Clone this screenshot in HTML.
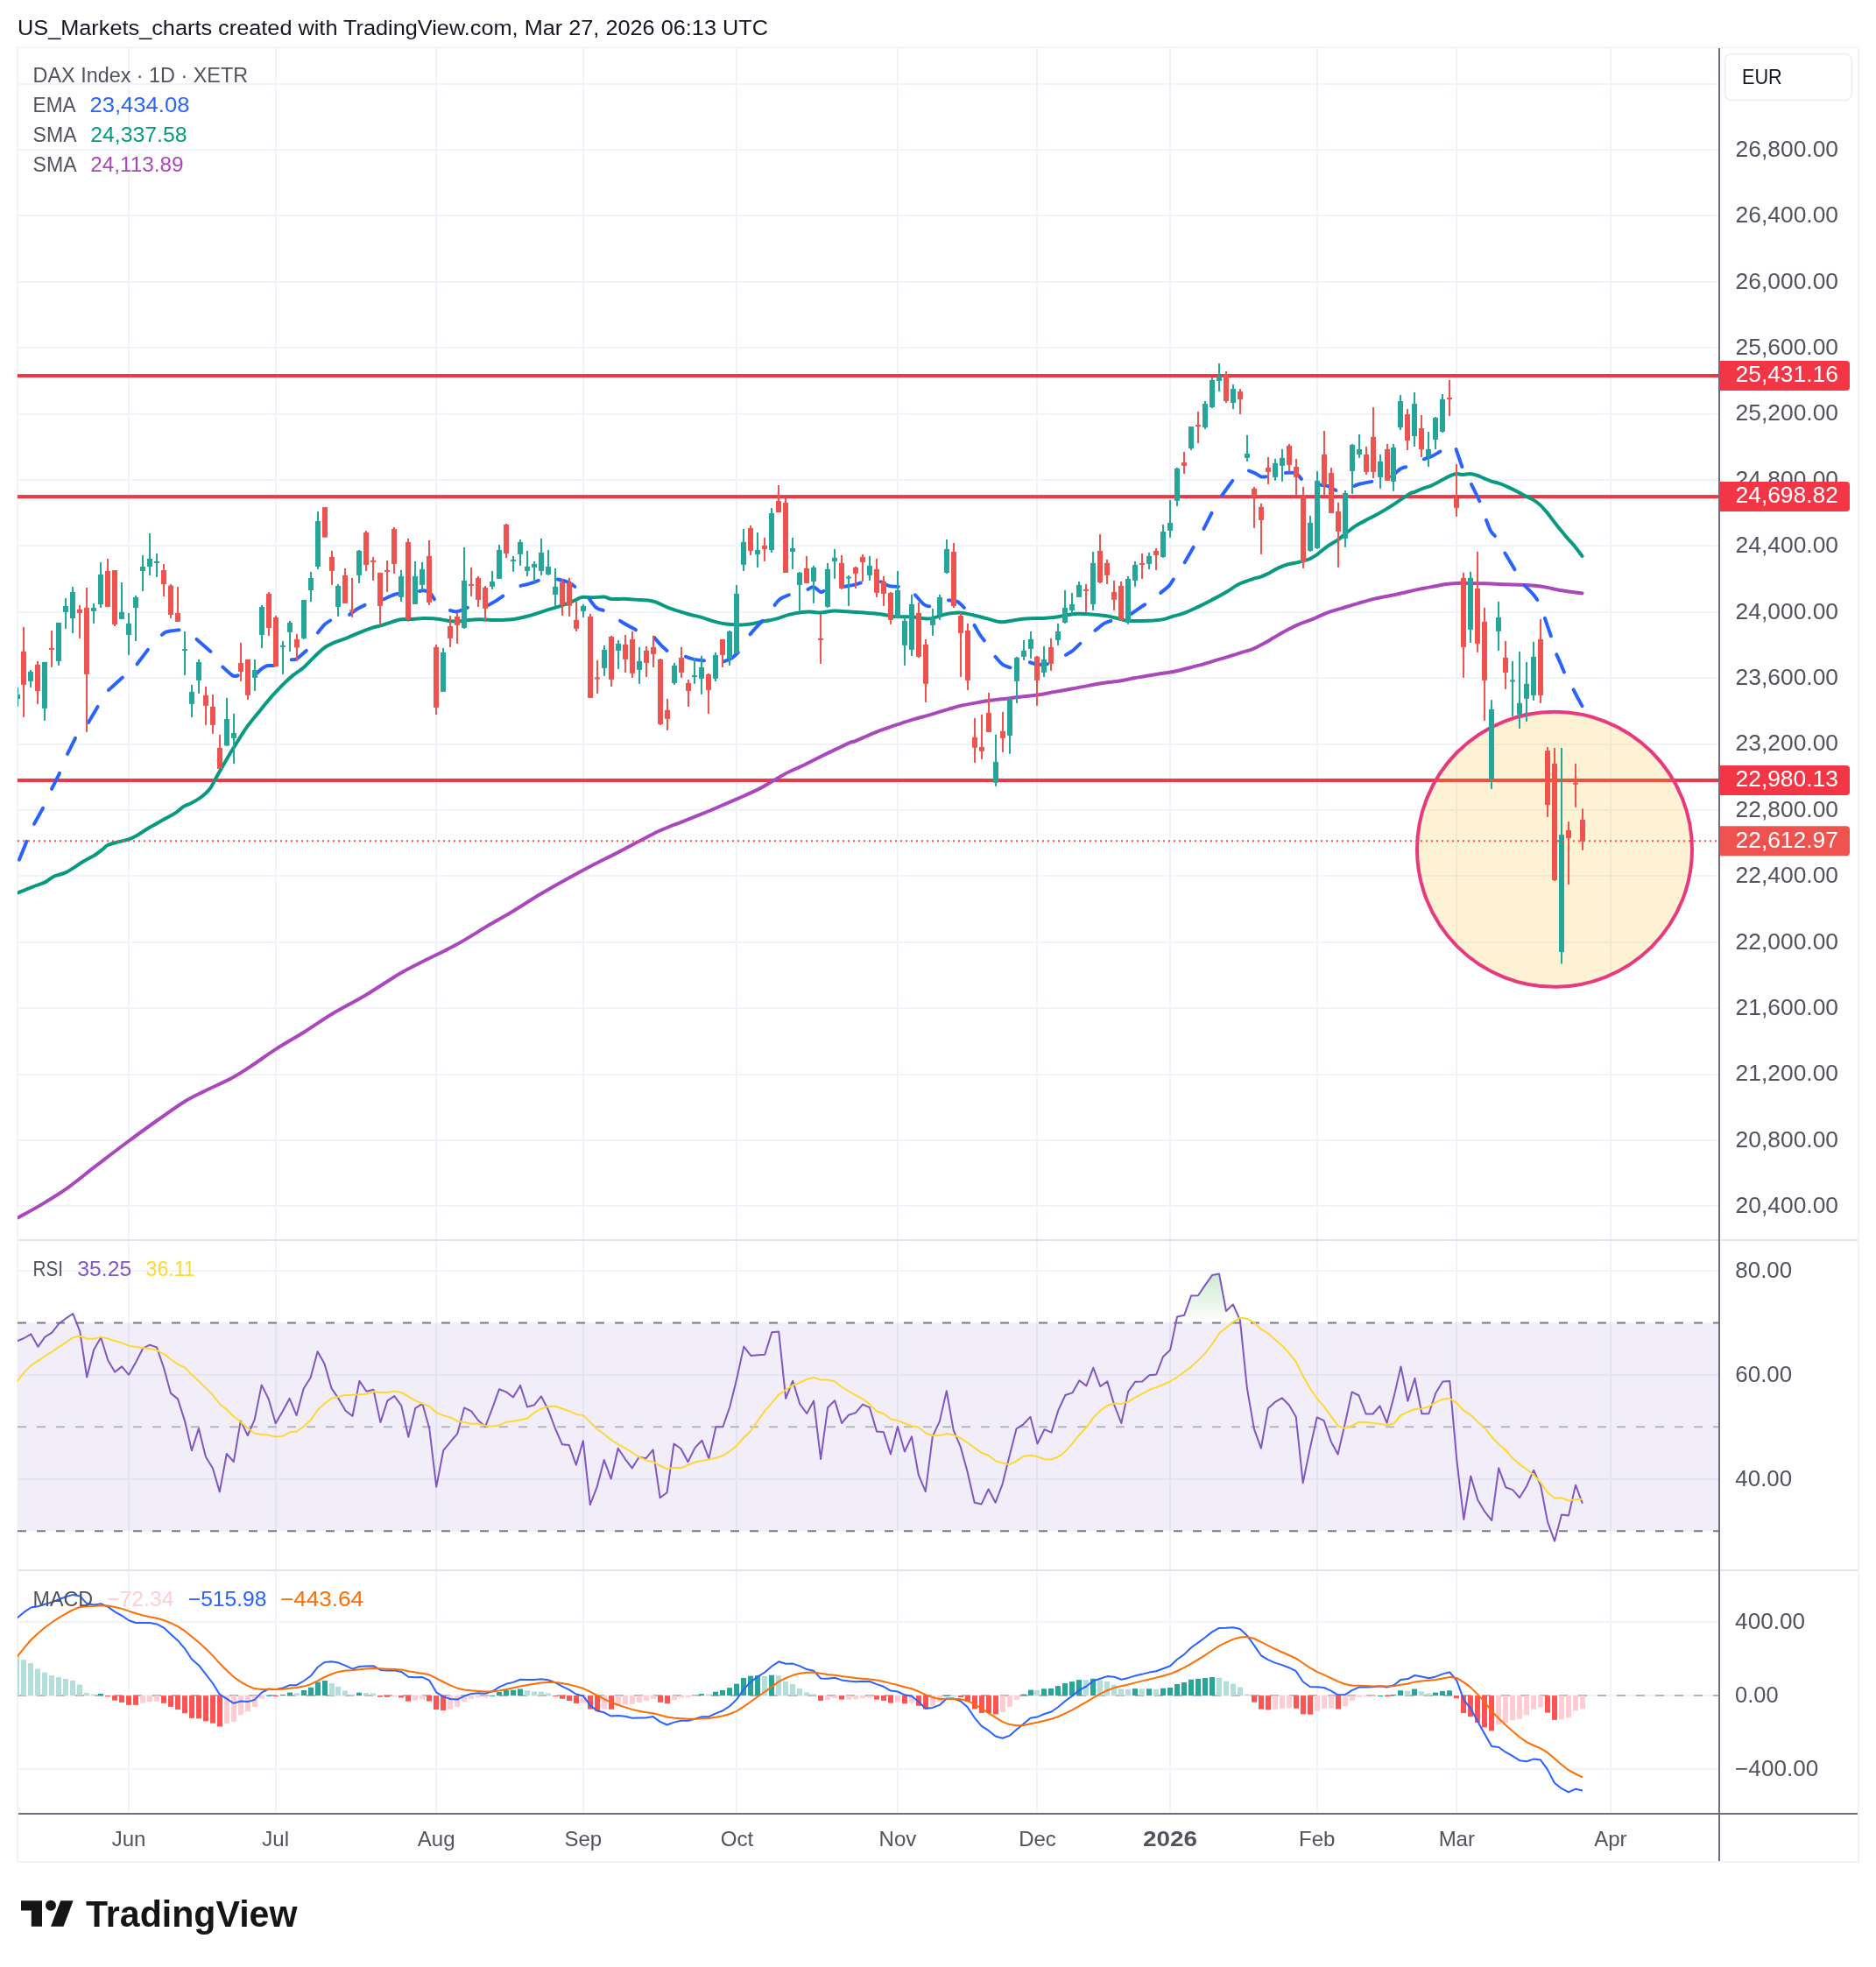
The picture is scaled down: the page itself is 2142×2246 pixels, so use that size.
<!DOCTYPE html><html><head><meta charset="utf-8"><title>DAX</title><style>html,body{margin:0;padding:0;background:#fff}svg{display:block;will-change:transform}</style></head><body><svg width="2142" height="2246" viewBox="0 0 2142 2246" font-family="Liberation Sans, sans-serif">
<rect width="2142" height="2246" fill="#fff"/>
<rect x="20" y="54.2" width="2102" height="2071.8" fill="none" stroke="#f2f3f5" stroke-width="2"/>
<defs><clipPath id="cp"><rect x="21" y="55" width="1941" height="2015"/></clipPath><clipPath id="cpm"><rect x="20" y="55" width="1942" height="1361"/></clipPath><clipPath id="cpr"><rect x="20" y="1417" width="1942" height="375"/></clipPath><clipPath id="cpd"><rect x="20" y="1794" width="1942" height="276"/></clipPath></defs>
<rect x="146" y="55" width="2" height="2015" fill="#f0f3fa"/>
<rect x="314" y="55" width="2" height="2015" fill="#f0f3fa"/>
<rect x="497" y="55" width="2" height="2015" fill="#f0f3fa"/>
<rect x="665" y="55" width="2" height="2015" fill="#f0f3fa"/>
<rect x="840" y="55" width="2" height="2015" fill="#f0f3fa"/>
<rect x="1024" y="55" width="2" height="2015" fill="#f0f3fa"/>
<rect x="1183" y="55" width="2" height="2015" fill="#f0f3fa"/>
<rect x="1335" y="55" width="2" height="2015" fill="#f0f3fa"/>
<rect x="1503" y="55" width="2" height="2015" fill="#f0f3fa"/>
<rect x="1662" y="55" width="2" height="2015" fill="#f0f3fa"/>
<rect x="1838" y="55" width="2" height="2015" fill="#f0f3fa"/>
<rect x="21" y="95" width="1941" height="2" fill="#f0f3fa"/>
<rect x="21" y="170" width="1941" height="2" fill="#f0f3fa"/>
<rect x="21" y="245" width="1941" height="2" fill="#f0f3fa"/>
<rect x="21" y="321" width="1941" height="2" fill="#f0f3fa"/>
<rect x="21" y="396" width="1941" height="2" fill="#f0f3fa"/>
<rect x="21" y="472" width="1941" height="2" fill="#f0f3fa"/>
<rect x="21" y="547" width="1941" height="2" fill="#f0f3fa"/>
<rect x="21" y="622" width="1941" height="2" fill="#f0f3fa"/>
<rect x="21" y="698" width="1941" height="2" fill="#f0f3fa"/>
<rect x="21" y="773" width="1941" height="2" fill="#f0f3fa"/>
<rect x="21" y="849" width="1941" height="2" fill="#f0f3fa"/>
<rect x="21" y="924" width="1941" height="2" fill="#f0f3fa"/>
<rect x="21" y="999" width="1941" height="2" fill="#f0f3fa"/>
<rect x="21" y="1075" width="1941" height="2" fill="#f0f3fa"/>
<rect x="21" y="1150" width="1941" height="2" fill="#f0f3fa"/>
<rect x="21" y="1226" width="1941" height="2" fill="#f0f3fa"/>
<rect x="21" y="1301" width="1941" height="2" fill="#f0f3fa"/>
<rect x="21" y="1376" width="1941" height="2" fill="#f0f3fa"/>
<rect x="21" y="1450.0" width="1941" height="2" fill="#f0f3fa"/>
<rect x="21" y="1568.9" width="1941" height="2" fill="#f0f3fa"/>
<rect x="21" y="1687.8" width="1941" height="2" fill="#f0f3fa"/>
<rect x="21" y="1851.1" width="1941" height="2" fill="#f0f3fa"/>
<rect x="21" y="1935.1" width="1941" height="2" fill="#f0f3fa"/>
<rect x="21" y="2019.1" width="1941" height="2" fill="#f0f3fa"/>
<rect x="21" y="1510.5" width="1941" height="237.8" fill="#7e57c2" fill-opacity="0.1"/>
<line x1="20" x2="1962" y1="1510.5" y2="1510.5" stroke="#787b86" stroke-width="2" stroke-dasharray="10 12"/>
<line x1="20" x2="1962" y1="1748.2" y2="1748.2" stroke="#787b86" stroke-width="2" stroke-dasharray="10 12"/>
<line x1="20" x2="1962" y1="1629.3" y2="1629.3" stroke="#b2b5be" stroke-width="2" stroke-dasharray="10 12"/>
<line x1="20" x2="1962" y1="1936.1" y2="1936.1" stroke="#b2b5be" stroke-width="2" stroke-dasharray="10 12"/>
<rect x="20" y="427.0" width="1943" height="4" fill="#f23645"/>
<rect x="20" y="565.1" width="1943" height="4" fill="#f23645"/>
<rect x="20" y="889.0" width="1943" height="4" fill="#f23645"/>
<circle cx="1775" cy="969.8" r="157" fill="#fbc02d" fill-opacity="0.2" stroke="#e8397e" stroke-width="4"/>
<g clip-path="url(#cpm)">
<path d="M20.8 1390.3 C25.1 1387.8 37.8 1381.1 47.0 1375.6 C56.2 1370.1 65.1 1364.9 75.8 1357.4 C86.4 1349.8 99.1 1339.2 110.9 1330.2 C122.8 1321.1 135.0 1311.7 146.8 1303.0 C158.5 1294.3 170.8 1285.5 181.3 1278.0 C191.9 1270.6 201.6 1263.5 210.1 1258.2 C218.6 1252.9 223.4 1250.9 232.5 1246.4 C241.5 1241.8 254.9 1236.2 264.5 1231.0 C274.1 1225.8 281.7 1220.5 290.1 1215.0 C298.4 1209.5 305.1 1204.2 314.7 1198.1 C324.3 1191.9 336.8 1185.0 347.6 1178.2 C358.4 1171.5 367.9 1164.5 379.6 1157.5 C391.3 1150.4 405.2 1143.7 418.0 1136.0 C430.8 1128.4 445.7 1118.0 456.4 1111.7 C467.0 1105.4 471.3 1103.7 481.9 1098.3 C492.6 1092.9 507.5 1086.1 520.3 1079.1 C533.1 1072.1 547.6 1062.6 558.7 1056.1 C569.8 1049.5 576.9 1045.7 587.0 1039.7 C597.0 1033.6 605.8 1027.5 619.0 1019.8 C632.1 1012.2 652.1 1001.1 666.0 993.6 C679.8 986.1 691.8 980.4 702.1 975.1 C712.4 969.7 719.2 966.0 727.7 961.6 C736.2 957.2 744.8 952.4 753.3 948.5 C761.8 944.6 769.3 942.1 778.9 938.3 C788.5 934.4 800.6 929.7 810.9 925.5 C821.1 921.2 831.0 916.9 840.6 912.7 C850.2 908.4 859.5 904.5 868.4 899.9 C877.3 895.3 885.5 889.4 894.0 884.9 C902.5 880.3 911.1 876.9 919.6 872.7 C928.1 868.5 936.7 864.1 945.2 859.9 C953.7 855.8 965.8 849.9 970.8 847.8 C975.7 845.6 971.6 848.1 975.0 846.8 C978.4 845.5 985.7 842.1 991.0 839.8 C996.3 837.6 1001.3 835.5 1007.0 833.4 C1012.6 831.3 1019.0 829.2 1025.0 827.2 C1031.0 825.2 1036.6 823.3 1043.0 821.4 C1049.3 819.5 1056.3 817.8 1062.9 815.8 C1069.6 813.9 1076.9 811.6 1082.9 809.8 C1088.9 808.1 1093.6 806.7 1098.9 805.4 C1104.3 804.2 1109.6 803.4 1114.9 802.4 C1120.2 801.5 1124.9 800.7 1130.9 799.8 C1136.9 799.0 1144.9 798.2 1150.9 797.4 C1156.9 796.7 1161.2 796.1 1166.9 795.4 C1172.5 794.8 1178.5 794.4 1184.9 793.4 C1191.2 792.5 1198.2 791.0 1204.9 789.9 C1211.5 788.7 1218.5 787.4 1224.9 786.3 C1231.2 785.1 1237.2 783.9 1242.8 782.9 C1248.5 781.8 1252.8 780.8 1258.8 779.9 C1264.8 779.0 1272.8 778.4 1278.8 777.5 C1284.8 776.5 1290.1 775.1 1294.8 774.3 C1299.5 773.4 1302.3 773.0 1307.0 772.2 C1311.7 771.4 1317.3 770.3 1323.0 769.4 C1328.6 768.5 1335.0 768.0 1341.0 766.8 C1347.0 765.6 1352.6 763.8 1359.0 762.2 C1365.3 760.5 1372.3 758.7 1378.9 756.8 C1385.6 754.9 1392.9 752.6 1398.9 750.8 C1404.9 749.0 1409.6 747.5 1414.9 745.8 C1420.3 744.1 1426.3 742.6 1430.9 740.8 C1435.6 739.0 1438.9 737.0 1442.9 734.8 C1446.9 732.6 1450.6 730.3 1454.9 727.8 C1459.2 725.3 1464.2 722.3 1468.9 719.8 C1473.6 717.3 1477.9 715.0 1482.9 712.8 C1487.9 710.6 1493.5 709.0 1498.9 706.8 C1504.2 704.7 1509.5 701.8 1514.9 699.8 C1520.2 697.8 1524.9 696.7 1530.9 694.8 C1536.9 693.0 1544.2 690.7 1550.8 688.8 C1557.5 686.9 1564.5 684.9 1570.8 683.4 C1577.2 681.9 1582.8 681.1 1588.8 679.8 C1594.8 678.6 1602.5 676.8 1606.8 675.8 C1611.2 674.8 1611.6 674.6 1615.0 673.9 C1618.4 673.2 1623.0 672.3 1627.0 671.5 C1631.0 670.7 1635.0 670.1 1639.0 669.3 C1643.0 668.5 1647.0 667.5 1651.0 666.9 C1655.0 666.3 1658.3 666.1 1663.0 665.9 C1667.6 665.7 1673.6 665.8 1679.0 665.9 C1684.3 666.0 1689.6 666.1 1695.0 666.3 C1700.3 666.5 1705.6 666.7 1710.9 666.9 C1716.3 667.1 1721.6 667.3 1726.9 667.5 C1732.3 667.7 1738.3 667.7 1742.9 667.9 C1747.6 668.1 1750.9 668.4 1754.9 668.9 C1758.9 669.4 1762.9 670.1 1766.9 670.9 C1770.9 671.7 1774.9 672.7 1778.9 673.5 C1782.9 674.3 1786.3 674.8 1790.9 675.5 C1795.5 676.1 1803.9 677.1 1806.5 677.5" fill="none" stroke="#ab47bc" stroke-width="4" stroke-linejoin="round" stroke-linecap="round"/>
<path d="M20.8 1019.3 C23.5 1018.2 32.2 1014.6 37.4 1012.6 C42.6 1010.6 47.8 1009.1 51.8 1007.1 C55.8 1005.2 57.4 1002.6 61.4 1000.7 C65.4 998.9 70.2 998.8 75.8 995.9 C81.4 993.1 89.6 987.0 95.0 983.8 C100.3 980.6 104.0 979.1 107.7 976.8 C111.5 974.4 114.8 971.7 117.3 969.7 C119.9 967.8 120.0 966.4 122.9 965.0 C125.9 963.6 130.9 962.5 134.9 961.4 C138.9 960.3 143.6 959.5 146.9 958.4 C150.3 957.3 150.9 957.0 154.9 954.8 C158.9 952.5 165.6 948.0 170.9 944.8 C176.2 941.6 181.9 938.6 186.9 935.8 C191.9 933.0 197.1 930.3 200.9 927.8 C204.7 925.3 207.2 922.5 209.9 920.8 C212.5 919.1 214.0 919.2 216.9 917.8 C219.7 916.4 223.9 914.2 226.9 912.2 C229.9 910.2 232.5 908.0 234.9 905.8 C237.2 903.6 238.9 901.8 240.9 898.8 C242.9 895.8 244.5 892.0 246.9 887.8 C249.2 883.7 251.9 879.0 254.9 873.8 C257.9 868.7 261.5 862.3 264.9 856.8 C268.2 851.3 271.8 845.5 274.8 840.8 C277.8 836.2 279.5 833.4 282.8 828.9 C286.2 824.4 290.5 819.2 294.8 813.9 C299.2 808.5 304.2 802.2 308.8 796.9 C313.5 791.5 318.5 786.2 322.8 781.9 C327.1 777.6 330.8 774.2 334.8 770.9 C338.8 767.6 343.0 765.4 347.0 761.9 C351.0 758.3 355.2 753.5 359.0 749.9 C362.8 746.2 366.6 742.4 370.0 739.9 C373.3 737.4 374.8 736.7 379.0 734.9 C383.1 733.0 390.0 730.9 395.0 728.9 C400.0 726.9 404.0 724.9 409.0 722.9 C414.0 720.9 420.6 718.3 424.9 716.9 C429.3 715.4 431.3 715.4 434.9 714.3 C438.6 713.2 443.1 711.5 446.9 710.3 C450.8 709.1 453.9 707.9 457.9 707.3 C461.9 706.7 466.8 707.1 470.9 706.9 C475.1 706.7 478.9 706.0 482.9 705.9 C486.9 705.8 490.9 706.0 494.9 706.3 C498.9 706.6 503.6 707.4 506.9 707.9 C510.2 708.4 511.6 709.1 514.9 709.3 C518.2 709.5 523.6 709.5 526.9 709.3 C530.2 709.1 531.5 708.2 534.9 707.9 C538.2 707.6 542.5 707.3 546.9 707.3 C551.2 707.3 556.2 707.8 560.9 707.9 C565.5 708.0 570.5 708.1 574.9 707.9 C579.2 707.7 582.2 707.6 586.8 706.9 C591.5 706.2 598.2 704.7 602.8 703.5 C607.5 702.3 610.8 701.2 614.8 699.9 C618.8 698.6 622.8 697.2 626.8 695.9 C630.8 694.6 634.8 693.6 638.8 692.3 C642.8 691.0 647.5 689.2 650.8 687.9 C654.1 686.6 656.5 685.3 658.8 684.3 C661.1 683.3 661.8 682.2 664.8 681.9 C667.8 681.6 672.8 682.4 677.0 682.3 C681.2 682.2 686.5 681.2 690.0 681.5 C693.5 681.8 693.8 683.5 698.0 683.9 C702.1 684.3 709.5 683.7 715.0 683.9 C720.5 684.1 726.3 684.8 731.0 685.1 C735.6 685.4 739.6 685.4 742.9 685.9 C746.3 686.4 747.6 687.0 750.9 688.3 C754.3 689.6 758.9 692.3 762.9 693.9 C766.9 695.5 770.9 696.6 774.9 697.9 C778.9 699.2 782.6 700.3 786.9 701.5 C791.3 702.7 796.6 703.7 800.9 704.9 C805.2 706.1 808.9 707.7 812.9 708.9 C816.9 710.1 821.2 711.2 824.9 711.9 C828.6 712.6 831.2 712.8 834.9 713.1 C838.6 713.4 842.9 713.6 846.9 713.5 C850.9 713.4 855.2 712.9 858.9 712.3 C862.5 711.7 865.5 710.6 868.9 709.9 C872.2 709.2 875.5 709.0 878.9 708.3 C882.2 707.6 885.2 707.0 888.9 705.9 C892.5 704.8 896.9 703.0 900.9 701.9 C904.9 700.8 908.8 700.1 912.8 699.5 C916.8 698.9 920.8 698.5 924.8 698.5 C928.8 698.5 932.2 699.7 936.8 699.5 C941.5 699.3 947.8 697.7 952.8 697.5 C957.8 697.3 961.8 698.0 966.8 698.3 C971.8 698.6 978.8 699.0 982.8 699.3 C986.8 699.6 987.0 699.5 991.0 699.9 C995.0 700.3 1002.0 700.8 1007.0 701.5 C1012.0 702.2 1015.3 703.4 1021.0 703.9 C1026.6 704.4 1035.3 703.9 1041.0 704.3 C1046.6 704.7 1051.0 706.0 1055.0 706.3 C1058.9 706.6 1060.9 706.7 1064.9 705.9 C1068.9 705.1 1073.9 702.6 1078.9 701.5 C1083.9 700.4 1089.6 699.4 1094.9 699.5 C1100.3 699.6 1105.6 701.2 1110.9 702.3 C1116.2 703.4 1121.6 705.0 1126.9 706.3 C1132.2 707.6 1137.6 710.0 1142.9 710.3 C1148.2 710.6 1153.6 708.6 1158.9 707.9 C1164.2 707.2 1169.5 706.6 1174.9 706.3 C1180.2 706.0 1186.2 706.1 1190.9 705.9 C1195.5 705.7 1198.9 705.4 1202.9 704.9 C1206.9 704.4 1210.9 703.6 1214.9 702.9 C1218.9 702.2 1222.9 701.2 1226.8 700.9 C1230.8 700.6 1234.2 700.7 1238.8 700.9 C1243.5 701.1 1250.2 701.8 1254.8 702.3 C1259.5 702.8 1263.2 703.2 1266.8 703.9 C1270.5 704.6 1273.5 705.5 1276.8 706.3 C1280.2 707.1 1283.8 708.5 1286.8 708.9 C1289.8 709.3 1290.8 708.9 1294.8 708.9 C1298.8 708.9 1305.6 709.1 1311.0 708.8 C1316.4 708.6 1322.3 708.2 1327.0 707.4 C1331.6 706.6 1335.0 705.0 1339.0 703.8 C1343.0 702.7 1346.3 702.2 1351.0 700.4 C1355.6 698.7 1361.6 695.9 1367.0 693.4 C1372.3 690.9 1377.6 688.2 1382.9 685.4 C1388.3 682.7 1393.6 679.9 1398.9 676.8 C1404.3 673.7 1409.6 669.5 1414.9 666.8 C1420.3 664.2 1426.9 662.2 1430.9 660.8 C1434.9 659.5 1436.2 659.7 1438.9 658.8 C1441.6 657.9 1443.6 657.1 1446.9 655.4 C1450.2 653.8 1454.9 650.7 1458.9 648.9 C1462.9 647.0 1466.9 645.4 1470.9 644.3 C1474.9 643.1 1478.9 642.9 1482.9 641.9 C1486.9 640.9 1491.5 639.6 1494.9 638.3 C1498.2 636.9 1499.5 636.2 1502.9 633.9 C1506.2 631.5 1510.9 627.1 1514.9 624.3 C1518.9 621.4 1523.2 619.4 1526.9 616.9 C1530.5 614.3 1533.2 611.7 1536.9 608.9 C1540.5 606.0 1544.5 602.6 1548.8 599.9 C1553.2 597.1 1558.5 594.6 1562.8 592.3 C1567.2 590.0 1570.8 588.1 1574.8 585.9 C1578.8 583.7 1582.8 581.4 1586.8 578.9 C1590.8 576.4 1594.8 573.6 1598.8 570.9 C1602.8 568.2 1608.1 564.4 1610.8 562.9 C1613.5 561.4 1613.0 562.7 1615.0 562.0 C1617.0 561.2 1620.0 559.5 1623.0 558.4 C1626.0 557.2 1629.3 556.5 1633.0 555.0 C1636.7 553.4 1641.3 550.9 1645.0 549.0 C1648.6 547.1 1652.0 544.9 1655.0 543.6 C1658.0 542.2 1660.5 541.2 1663.0 541.0 C1665.5 540.7 1667.3 542.0 1670.0 542.0 C1672.6 542.0 1676.1 540.8 1679.0 541.0 C1681.8 541.1 1684.3 542.1 1687.0 543.0 C1689.6 543.9 1692.3 545.3 1695.0 546.4 C1697.6 547.5 1700.3 548.7 1702.9 549.6 C1705.6 550.4 1707.9 550.6 1710.9 551.6 C1713.9 552.6 1717.3 553.9 1720.9 555.6 C1724.6 557.2 1729.3 559.7 1732.9 561.6 C1736.6 563.4 1739.9 565.4 1742.9 566.9 C1745.9 568.5 1748.3 569.3 1750.9 570.9 C1753.6 572.6 1756.2 574.4 1758.9 576.9 C1761.6 579.4 1764.2 582.7 1766.9 585.9 C1769.6 589.2 1772.2 592.9 1774.9 596.3 C1777.6 599.7 1780.2 603.1 1782.9 606.3 C1785.6 609.6 1788.2 612.8 1790.9 615.9 C1793.6 619.0 1796.3 621.7 1798.9 624.9 C1801.5 628.1 1805.2 633.2 1806.5 634.9" fill="none" stroke="#089981" stroke-width="4" stroke-linejoin="round" stroke-linecap="round"/>
<path d="M22.0 981.6 L30.4 960.8" fill="none" stroke="#2962ff" stroke-width="4" stroke-linejoin="round" stroke-linecap="round"/>
<path d="M39.0 940.8 L49.0 922.8" fill="none" stroke="#2962ff" stroke-width="4" stroke-linejoin="round" stroke-linecap="round"/>
<path d="M59.0 900.8 L68.0 882.8" fill="none" stroke="#2962ff" stroke-width="4" stroke-linejoin="round" stroke-linecap="round"/>
<path d="M77.0 860.8 L86.0 842.8" fill="none" stroke="#2962ff" stroke-width="4" stroke-linejoin="round" stroke-linecap="round"/>
<path d="M100.9 824.9 L111.5 806.9" fill="none" stroke="#2962ff" stroke-width="4" stroke-linejoin="round" stroke-linecap="round"/>
<path d="M123.9 787.9 L139.9 773.5" fill="none" stroke="#2962ff" stroke-width="4" stroke-linejoin="round" stroke-linecap="round"/>
<path d="M156.5 758.3 L168.9 741.9" fill="none" stroke="#2962ff" stroke-width="4" stroke-linejoin="round" stroke-linecap="round"/>
<path d="M184.9 724.9 C185.6 724.4 187.1 722.7 188.9 721.9 C190.7 721.2 193.3 720.8 195.9 720.3 C198.5 719.9 203.1 719.5 204.5 719.3" fill="none" stroke="#2962ff" stroke-width="4" stroke-linejoin="round" stroke-linecap="round"/>
<path d="M224.5 729.9 L240.5 743.9" fill="none" stroke="#2962ff" stroke-width="4" stroke-linejoin="round" stroke-linecap="round"/>
<path d="M254.3 761.5 C256.2 763.2 262.9 769.9 265.8 771.5 C268.8 773.1 270.8 771.3 271.8 771.3" fill="none" stroke="#2962ff" stroke-width="4" stroke-linejoin="round" stroke-linecap="round"/>
<path d="M293.8 768.5 C294.5 767.8 296.0 765.7 297.8 764.3 C299.7 762.9 302.3 761.0 304.8 760.3 C307.3 759.6 311.5 760.1 312.8 760.1" fill="none" stroke="#2962ff" stroke-width="4" stroke-linejoin="round" stroke-linecap="round"/>
<path d="M332.8 753.3 C333.8 753.1 336.0 754.0 338.8 752.3 C341.6 750.6 348.0 744.5 349.8 742.9" fill="none" stroke="#2962ff" stroke-width="4" stroke-linejoin="round" stroke-linecap="round"/>
<path d="M362.8 722.5 C364.1 720.9 368.4 715.3 370.8 712.9 C373.2 710.6 376.1 709.3 377.2 708.5" fill="none" stroke="#2962ff" stroke-width="4" stroke-linejoin="round" stroke-linecap="round"/>
<path d="M399.0 701.9 C400.5 700.8 405.0 697.1 408.0 695.3 C410.9 693.5 415.1 691.6 416.6 690.9" fill="none" stroke="#2962ff" stroke-width="4" stroke-linejoin="round" stroke-linecap="round"/>
<path d="M437.9 684.3 C439.8 683.5 446.1 680.4 448.9 679.3 C451.8 678.2 453.9 678.1 454.9 677.9" fill="none" stroke="#2962ff" stroke-width="4" stroke-linejoin="round" stroke-linecap="round"/>
<path d="M478.9 674.9 C479.7 674.8 481.9 674.0 483.9 674.3 C485.9 674.6 488.9 675.2 490.9 676.9 C492.9 678.6 495.1 683.1 495.9 684.3" fill="none" stroke="#2962ff" stroke-width="4" stroke-linejoin="round" stroke-linecap="round"/>
<path d="M513.9 696.9 C515.2 697.1 518.6 698.8 521.9 698.3 C525.2 697.8 531.9 694.6 533.9 693.9" fill="none" stroke="#2962ff" stroke-width="4" stroke-linejoin="round" stroke-linecap="round"/>
<path d="M557.9 690.9 C559.0 690.2 562.1 688.6 564.9 686.9 C567.6 685.2 572.7 681.6 574.3 680.5" fill="none" stroke="#2962ff" stroke-width="4" stroke-linejoin="round" stroke-linecap="round"/>
<path d="M594.4 668.9 C596.2 668.5 601.4 667.3 604.8 666.3 C608.2 665.3 613.2 663.5 614.8 662.9" fill="none" stroke="#2962ff" stroke-width="4" stroke-linejoin="round" stroke-linecap="round"/>
<path d="M636.8 661.5 C638.8 662.1 645.5 663.5 648.8 664.9 C652.1 666.3 655.1 669.1 656.4 669.9" fill="none" stroke="#2962ff" stroke-width="4" stroke-linejoin="round" stroke-linecap="round"/>
<path d="M672.8 683.9 C674.1 685.6 678.1 691.7 680.8 693.9 C683.5 696.1 687.5 696.4 688.8 696.9" fill="none" stroke="#2962ff" stroke-width="4" stroke-linejoin="round" stroke-linecap="round"/>
<path d="M708.0 708.9 C709.5 709.8 714.0 712.6 717.0 714.3 C720.0 716.0 724.5 718.4 726.0 719.3" fill="none" stroke="#2962ff" stroke-width="4" stroke-linejoin="round" stroke-linecap="round"/>
<path d="M746.9 727.9 C748.3 729.4 752.5 734.4 754.9 736.9 C757.4 739.4 760.4 741.9 761.5 742.9" fill="none" stroke="#2962ff" stroke-width="4" stroke-linejoin="round" stroke-linecap="round"/>
<path d="M782.9 749.9 C784.6 750.4 789.4 752.1 792.9 752.9 C796.4 753.6 802.1 754.0 803.9 754.3" fill="none" stroke="#2962ff" stroke-width="4" stroke-linejoin="round" stroke-linecap="round"/>
<path d="M825.9 755.5 C827.4 754.9 832.1 753.6 834.9 751.9 C837.7 750.1 841.6 746.0 842.9 744.9" fill="none" stroke="#2962ff" stroke-width="4" stroke-linejoin="round" stroke-linecap="round"/>
<path d="M856.5 724.3 C857.7 722.9 861.5 718.4 863.9 715.9 C866.2 713.3 869.4 710.1 870.5 708.9" fill="none" stroke="#2962ff" stroke-width="4" stroke-linejoin="round" stroke-linecap="round"/>
<path d="M884.5 690.9 C885.5 689.7 888.1 685.8 890.9 683.9 C893.6 682.0 899.2 680.1 900.9 679.3" fill="none" stroke="#2962ff" stroke-width="4" stroke-linejoin="round" stroke-linecap="round"/>
<path d="M922.4 672.9 C923.5 672.5 926.4 669.8 928.8 670.3 C931.2 670.8 934.9 675.1 936.8 675.9 C938.8 676.7 939.8 675.1 940.4 674.9" fill="none" stroke="#2962ff" stroke-width="4" stroke-linejoin="round" stroke-linecap="round"/>
<path d="M963.8 669.9 C965.6 669.6 971.6 668.6 974.8 667.9 C978.0 667.2 981.5 665.9 982.8 665.5" fill="none" stroke="#2962ff" stroke-width="4" stroke-linejoin="round" stroke-linecap="round"/>
<path d="M1005.8 664.3 C1007.3 665.1 1011.5 668.0 1014.8 668.9 C1018.1 669.8 1023.9 669.7 1025.8 669.9" fill="none" stroke="#2962ff" stroke-width="4" stroke-linejoin="round" stroke-linecap="round"/>
<path d="M1045.0 679.3 C1046.6 681.1 1052.2 688.1 1055.0 690.3 C1057.7 692.5 1060.3 692.0 1061.3 692.3" fill="none" stroke="#2962ff" stroke-width="4" stroke-linejoin="round" stroke-linecap="round"/>
<path d="M1082.9 685.5 C1084.6 685.7 1089.9 685.5 1092.9 686.9 C1095.9 688.3 1099.6 692.7 1100.9 693.9" fill="none" stroke="#2962ff" stroke-width="4" stroke-linejoin="round" stroke-linecap="round"/>
<path d="M1112.5 713.9 C1113.6 715.7 1117.0 722.0 1118.9 724.9 C1120.8 727.8 1123.1 730.4 1123.9 731.5" fill="none" stroke="#2962ff" stroke-width="4" stroke-linejoin="round" stroke-linecap="round"/>
<path d="M1136.5 749.9 C1137.9 751.4 1142.1 756.8 1144.9 758.9 C1147.7 760.9 1152.1 761.7 1153.5 762.3" fill="none" stroke="#2962ff" stroke-width="4" stroke-linejoin="round" stroke-linecap="round"/>
<path d="M1175.9 756.3 C1177.4 756.7 1181.5 758.5 1184.9 758.9 C1188.2 759.2 1194.0 758.4 1195.9 758.3" fill="none" stroke="#2962ff" stroke-width="4" stroke-linejoin="round" stroke-linecap="round"/>
<path d="M1216.9 747.9 C1218.2 747.0 1222.1 745.0 1224.9 742.9 C1227.6 740.7 1232.0 736.2 1233.4 734.9" fill="none" stroke="#2962ff" stroke-width="4" stroke-linejoin="round" stroke-linecap="round"/>
<path d="M1250.4 719.9 C1252.2 718.6 1257.8 713.7 1260.8 711.9 C1263.8 710.1 1267.2 709.4 1268.4 708.9" fill="none" stroke="#2962ff" stroke-width="4" stroke-linejoin="round" stroke-linecap="round"/>
<path d="M1291.8 700.9 C1293.0 700.1 1296.2 697.7 1298.8 695.9 C1301.4 694.1 1305.8 691.2 1307.2 690.3" fill="none" stroke="#2962ff" stroke-width="4" stroke-linejoin="round" stroke-linecap="round"/>
<path d="M1325.2 676.9 C1326.8 675.6 1332.4 671.5 1334.8 668.9 C1337.2 666.4 1338.9 662.8 1339.8 661.5" fill="none" stroke="#2962ff" stroke-width="4" stroke-linejoin="round" stroke-linecap="round"/>
<path d="M1352.6 642.3 L1362.6 624.9" fill="none" stroke="#2962ff" stroke-width="4" stroke-linejoin="round" stroke-linecap="round"/>
<path d="M1374.4 603.9 L1383.5 585.9" fill="none" stroke="#2962ff" stroke-width="4" stroke-linejoin="round" stroke-linecap="round"/>
<path d="M1395.3 565.5 L1407.3 548.9" fill="none" stroke="#2962ff" stroke-width="4" stroke-linejoin="round" stroke-linecap="round"/>
<path d="M1425.9 537.5 C1427.1 538.0 1430.6 539.2 1432.9 540.3 C1435.2 541.4 1437.8 543.6 1439.9 544.3 C1442.0 545.0 1444.4 544.3 1445.3 544.3" fill="none" stroke="#2962ff" stroke-width="4" stroke-linejoin="round" stroke-linecap="round"/>
<path d="M1467.9 539.9 C1469.4 539.9 1474.6 539.5 1476.9 539.9 C1479.2 540.3 1480.4 541.1 1481.9 542.3 C1483.4 543.5 1485.2 546.1 1485.9 546.9" fill="none" stroke="#2962ff" stroke-width="4" stroke-linejoin="round" stroke-linecap="round"/>
<path d="M1507.3 553.5 C1508.7 553.7 1512.9 553.8 1515.9 554.9 C1518.9 556.0 1523.7 559.1 1525.3 559.9" fill="none" stroke="#2962ff" stroke-width="4" stroke-linejoin="round" stroke-linecap="round"/>
<path d="M1546.4 554.9 C1547.5 554.5 1549.5 553.3 1552.8 552.5 C1556.2 551.7 1564.2 550.3 1566.4 549.9" fill="none" stroke="#2962ff" stroke-width="4" stroke-linejoin="round" stroke-linecap="round"/>
<path d="M1588.8 544.3 C1590.5 542.8 1596.1 537.4 1598.8 535.5 C1601.5 533.7 1604.1 533.7 1605.2 533.3" fill="none" stroke="#2962ff" stroke-width="4" stroke-linejoin="round" stroke-linecap="round"/>
<path d="M1625.8 524.3 C1627.3 523.8 1631.7 522.4 1634.8 520.9 C1637.9 519.5 1642.8 516.4 1644.4 515.5" fill="none" stroke="#2962ff" stroke-width="4" stroke-linejoin="round" stroke-linecap="round"/>
<path d="M1662.6 513.0 C1663.1 514.6 1664.8 519.6 1666.0 523.0 C1667.1 526.3 1668.8 531.3 1669.4 533.0" fill="none" stroke="#2962ff" stroke-width="4" stroke-linejoin="round" stroke-linecap="round"/>
<path d="M1680.0 553.0 C1680.8 554.6 1683.4 559.7 1685.0 563.0 C1686.5 566.2 1688.6 570.8 1689.4 572.3" fill="none" stroke="#2962ff" stroke-width="4" stroke-linejoin="round" stroke-linecap="round"/>
<path d="M1697.0 593.9 C1697.8 595.9 1700.3 602.9 1701.9 605.9 C1703.6 608.9 1706.1 610.9 1706.9 611.9" fill="none" stroke="#2962ff" stroke-width="4" stroke-linejoin="round" stroke-linecap="round"/>
<path d="M1718.3 631.5 C1719.3 633.1 1722.1 637.8 1723.9 640.9 C1725.8 644.0 1728.6 648.7 1729.5 650.3" fill="none" stroke="#2962ff" stroke-width="4" stroke-linejoin="round" stroke-linecap="round"/>
<path d="M1740.5 668.3 C1742.1 669.9 1747.5 675.1 1749.9 677.9 C1752.4 680.6 1754.4 683.7 1755.3 684.9" fill="none" stroke="#2962ff" stroke-width="4" stroke-linejoin="round" stroke-linecap="round"/>
<path d="M1763.9 705.9 C1764.5 707.5 1766.1 712.5 1767.3 715.9 C1768.5 719.3 1770.3 724.5 1770.9 726.3" fill="none" stroke="#2962ff" stroke-width="4" stroke-linejoin="round" stroke-linecap="round"/>
<path d="M1777.3 747.4 C1778.1 749.2 1780.5 754.5 1781.9 757.8 C1783.3 761.2 1785.2 765.8 1785.9 767.4" fill="none" stroke="#2962ff" stroke-width="4" stroke-linejoin="round" stroke-linecap="round"/>
<path d="M1796.5 787.4 C1797.4 789.1 1800.2 794.7 1801.9 797.8 C1803.6 800.9 1805.7 804.8 1806.5 806.2" fill="none" stroke="#2962ff" stroke-width="4" stroke-linejoin="round" stroke-linecap="round"/>
<rect x="19" y="784.9" width="2" height="22.0" fill="#26a69a"/>
<rect x="17" y="792.9" width="6" height="5.0" fill="#26a69a"/>
<rect x="26" y="715.9" width="2" height="102.9" fill="#ef5350"/>
<rect x="24" y="743.9" width="6" height="38.0" fill="#ef5350"/>
<rect x="34" y="764.9" width="2" height="20.0" fill="#26a69a"/>
<rect x="32" y="766.9" width="6" height="11.0" fill="#26a69a"/>
<rect x="42" y="754.9" width="2" height="49.0" fill="#ef5350"/>
<rect x="40" y="758.9" width="6" height="30.0" fill="#ef5350"/>
<rect x="50" y="755.9" width="2" height="67.0" fill="#26a69a"/>
<rect x="48" y="755.9" width="6" height="53.0" fill="#26a69a"/>
<rect x="58" y="719.9" width="2" height="42.0" fill="#ef5350"/>
<rect x="56" y="739.9" width="6" height="2.0" fill="#ef5350"/>
<rect x="66" y="710.9" width="2" height="49.0" fill="#26a69a"/>
<rect x="64" y="710.9" width="6" height="44.0" fill="#26a69a"/>
<rect x="74" y="683.0" width="2" height="35.0" fill="#26a69a"/>
<rect x="72" y="691.9" width="6" height="7.0" fill="#26a69a"/>
<rect x="82" y="670.0" width="2" height="53.0" fill="#26a69a"/>
<rect x="80" y="676.0" width="6" height="30.0" fill="#26a69a"/>
<rect x="90" y="690.9" width="2" height="38.0" fill="#ef5350"/>
<rect x="88" y="695.9" width="6" height="4.0" fill="#ef5350"/>
<rect x="98" y="671.0" width="2" height="164.9" fill="#ef5350"/>
<rect x="96" y="693.9" width="6" height="76.0" fill="#ef5350"/>
<rect x="106" y="688.9" width="2" height="23.0" fill="#26a69a"/>
<rect x="104" y="693.9" width="6" height="4.0" fill="#26a69a"/>
<rect x="114" y="642.0" width="2" height="52.0" fill="#26a69a"/>
<rect x="112" y="656.0" width="6" height="34.0" fill="#26a69a"/>
<rect x="122" y="638.0" width="2" height="55.0" fill="#ef5350"/>
<rect x="120" y="652.0" width="6" height="41.0" fill="#ef5350"/>
<rect x="130" y="651.0" width="2" height="64.0" fill="#ef5350"/>
<rect x="128" y="651.0" width="6" height="62.0" fill="#ef5350"/>
<rect x="138" y="665.0" width="2" height="42.0" fill="#26a69a"/>
<rect x="136" y="698.9" width="6" height="8.0" fill="#26a69a"/>
<rect x="146" y="699.9" width="2" height="48.0" fill="#26a69a"/>
<rect x="144" y="711.9" width="6" height="13.0" fill="#26a69a"/>
<rect x="154" y="680.0" width="2" height="52.0" fill="#26a69a"/>
<rect x="152" y="682.0" width="6" height="12.0" fill="#26a69a"/>
<rect x="162" y="634.0" width="2" height="41.0" fill="#26a69a"/>
<rect x="160" y="647.0" width="6" height="5.0" fill="#26a69a"/>
<rect x="170" y="609.0" width="2" height="48.0" fill="#26a69a"/>
<rect x="168" y="638.0" width="6" height="9.0" fill="#26a69a"/>
<rect x="178" y="632.0" width="2" height="27.0" fill="#26a69a"/>
<rect x="176" y="641.0" width="6" height="2.0" fill="#26a69a"/>
<rect x="186" y="644.0" width="2" height="37.0" fill="#ef5350"/>
<rect x="184" y="651.0" width="6" height="16.0" fill="#ef5350"/>
<rect x="194" y="667.0" width="2" height="39.0" fill="#ef5350"/>
<rect x="192" y="668.6" width="6" height="33.4" fill="#ef5350"/>
<rect x="202" y="670.0" width="2" height="40.0" fill="#ef5350"/>
<rect x="200" y="699.9" width="6" height="10.0" fill="#ef5350"/>
<rect x="210" y="720.9" width="2" height="50.0" fill="#26a69a"/>
<rect x="208" y="741.1" width="6" height="2.0" fill="#26a69a"/>
<rect x="218" y="781.9" width="2" height="37.0" fill="#26a69a"/>
<rect x="216" y="789.9" width="6" height="14.0" fill="#26a69a"/>
<rect x="226" y="752.9" width="2" height="39.0" fill="#26a69a"/>
<rect x="224" y="755.9" width="6" height="21.0" fill="#26a69a"/>
<rect x="234" y="783.9" width="2" height="44.0" fill="#ef5350"/>
<rect x="232" y="793.9" width="6" height="12.0" fill="#ef5350"/>
<rect x="242" y="792.9" width="2" height="45.0" fill="#ef5350"/>
<rect x="240" y="806.9" width="6" height="21.0" fill="#ef5350"/>
<rect x="250" y="838.9" width="2" height="39.0" fill="#ef5350"/>
<rect x="248" y="853.9" width="6" height="24.0" fill="#ef5350"/>
<rect x="258" y="796.9" width="2" height="54.6" fill="#26a69a"/>
<rect x="256" y="820.9" width="6" height="30.6" fill="#26a69a"/>
<rect x="266" y="814.9" width="2" height="57.0" fill="#26a69a"/>
<rect x="264" y="836.9" width="6" height="6.0" fill="#26a69a"/>
<rect x="274" y="733.9" width="2" height="44.0" fill="#ef5350"/>
<rect x="272" y="756.9" width="6" height="10.0" fill="#ef5350"/>
<rect x="282" y="752.9" width="2" height="46.0" fill="#ef5350"/>
<rect x="280" y="752.9" width="6" height="41.0" fill="#ef5350"/>
<rect x="290" y="752.9" width="2" height="36.0" fill="#26a69a"/>
<rect x="288" y="764.9" width="6" height="9.0" fill="#26a69a"/>
<rect x="298" y="690.9" width="2" height="49.0" fill="#26a69a"/>
<rect x="296" y="692.9" width="6" height="32.0" fill="#26a69a"/>
<rect x="306" y="676.0" width="2" height="50.0" fill="#ef5350"/>
<rect x="304" y="678.0" width="6" height="39.0" fill="#ef5350"/>
<rect x="314" y="702.9" width="2" height="58.0" fill="#ef5350"/>
<rect x="312" y="704.9" width="6" height="56.0" fill="#ef5350"/>
<rect x="322" y="731.9" width="2" height="38.0" fill="#26a69a"/>
<rect x="320" y="736.9" width="6" height="2.0" fill="#26a69a"/>
<rect x="330" y="708.9" width="2" height="35.0" fill="#26a69a"/>
<rect x="328" y="710.9" width="6" height="11.0" fill="#26a69a"/>
<rect x="338" y="723.9" width="2" height="31.0" fill="#ef5350"/>
<rect x="336" y="729.9" width="6" height="9.6" fill="#ef5350"/>
<rect x="346" y="684.9" width="2" height="45.0" fill="#26a69a"/>
<rect x="344" y="684.9" width="6" height="44.0" fill="#26a69a"/>
<rect x="354" y="653.0" width="2" height="34.0" fill="#26a69a"/>
<rect x="352" y="660.0" width="6" height="14.0" fill="#26a69a"/>
<rect x="362" y="584.0" width="2" height="66.0" fill="#26a69a"/>
<rect x="360" y="595.0" width="6" height="52.0" fill="#26a69a"/>
<rect x="370" y="579.0" width="2" height="34.6" fill="#ef5350"/>
<rect x="368" y="579.0" width="6" height="34.6" fill="#ef5350"/>
<rect x="378" y="628.9" width="2" height="39.0" fill="#ef5350"/>
<rect x="376" y="635.9" width="6" height="16.0" fill="#ef5350"/>
<rect x="385" y="666.9" width="2" height="37.0" fill="#26a69a"/>
<rect x="383" y="668.9" width="6" height="24.0" fill="#26a69a"/>
<rect x="393" y="648.9" width="2" height="40.0" fill="#ef5350"/>
<rect x="391" y="656.9" width="6" height="32.0" fill="#ef5350"/>
<rect x="401" y="659.9" width="2" height="45.0" fill="#ef5350"/>
<rect x="399" y="696.3" width="6" height="2.0" fill="#ef5350"/>
<rect x="409" y="627.9" width="2" height="38.0" fill="#26a69a"/>
<rect x="407" y="628.9" width="6" height="28.0" fill="#26a69a"/>
<rect x="417" y="606.0" width="2" height="46.0" fill="#ef5350"/>
<rect x="415" y="608.0" width="6" height="37.0" fill="#ef5350"/>
<rect x="425" y="635.9" width="2" height="27.0" fill="#ef5350"/>
<rect x="423" y="639.9" width="6" height="2.0" fill="#ef5350"/>
<rect x="433" y="653.9" width="2" height="60.0" fill="#ef5350"/>
<rect x="431" y="653.9" width="6" height="38.0" fill="#ef5350"/>
<rect x="441" y="639.9" width="2" height="36.0" fill="#ef5350"/>
<rect x="439" y="650.9" width="6" height="2.0" fill="#ef5350"/>
<rect x="449" y="602.0" width="2" height="53.0" fill="#ef5350"/>
<rect x="447" y="604.0" width="6" height="40.0" fill="#ef5350"/>
<rect x="457" y="650.9" width="2" height="36.0" fill="#26a69a"/>
<rect x="455" y="657.9" width="6" height="24.0" fill="#26a69a"/>
<rect x="465" y="614.9" width="2" height="94.9" fill="#ef5350"/>
<rect x="463" y="618.9" width="6" height="88.0" fill="#ef5350"/>
<rect x="473" y="640.9" width="2" height="49.0" fill="#26a69a"/>
<rect x="471" y="657.9" width="6" height="32.0" fill="#26a69a"/>
<rect x="481" y="641.9" width="2" height="32.0" fill="#26a69a"/>
<rect x="479" y="649.9" width="6" height="18.0" fill="#26a69a"/>
<rect x="489" y="616.9" width="2" height="74.0" fill="#ef5350"/>
<rect x="487" y="634.9" width="6" height="53.0" fill="#ef5350"/>
<rect x="497" y="735.9" width="2" height="80.0" fill="#ef5350"/>
<rect x="495" y="738.9" width="6" height="69.0" fill="#ef5350"/>
<rect x="505" y="739.9" width="2" height="50.0" fill="#26a69a"/>
<rect x="503" y="744.9" width="6" height="45.0" fill="#26a69a"/>
<rect x="513" y="702.9" width="2" height="36.0" fill="#ef5350"/>
<rect x="511" y="714.9" width="6" height="14.0" fill="#ef5350"/>
<rect x="521" y="699.9" width="2" height="35.0" fill="#ef5350"/>
<rect x="519" y="703.9" width="6" height="10.0" fill="#ef5350"/>
<rect x="529" y="624.9" width="2" height="93.0" fill="#26a69a"/>
<rect x="527" y="662.9" width="6" height="54.0" fill="#26a69a"/>
<rect x="537" y="647.9" width="2" height="33.0" fill="#ef5350"/>
<rect x="535" y="666.9" width="6" height="2.0" fill="#ef5350"/>
<rect x="545" y="657.9" width="2" height="35.0" fill="#ef5350"/>
<rect x="543" y="659.9" width="6" height="25.0" fill="#ef5350"/>
<rect x="553" y="668.9" width="2" height="41.0" fill="#ef5350"/>
<rect x="551" y="670.9" width="6" height="24.0" fill="#ef5350"/>
<rect x="561" y="651.9" width="2" height="21.0" fill="#26a69a"/>
<rect x="559" y="663.9" width="6" height="6.0" fill="#26a69a"/>
<rect x="569" y="621.9" width="2" height="39.0" fill="#26a69a"/>
<rect x="567" y="627.9" width="6" height="33.0" fill="#26a69a"/>
<rect x="577" y="598.0" width="2" height="39.0" fill="#ef5350"/>
<rect x="575" y="599.0" width="6" height="33.0" fill="#ef5350"/>
<rect x="585" y="634.9" width="2" height="18.0" fill="#26a69a"/>
<rect x="583" y="639.1" width="6" height="2.0" fill="#26a69a"/>
<rect x="593" y="615.9" width="2" height="30.0" fill="#26a69a"/>
<rect x="591" y="618.9" width="6" height="14.0" fill="#26a69a"/>
<rect x="601" y="628.9" width="2" height="29.0" fill="#26a69a"/>
<rect x="599" y="646.9" width="6" height="5.0" fill="#26a69a"/>
<rect x="609" y="640.9" width="2" height="24.0" fill="#26a69a"/>
<rect x="607" y="643.9" width="6" height="4.0" fill="#26a69a"/>
<rect x="617" y="614.9" width="2" height="42.0" fill="#26a69a"/>
<rect x="615" y="630.9" width="6" height="21.0" fill="#26a69a"/>
<rect x="625" y="627.9" width="2" height="29.0" fill="#26a69a"/>
<rect x="623" y="646.9" width="6" height="9.0" fill="#26a69a"/>
<rect x="633" y="648.9" width="2" height="43.0" fill="#26a69a"/>
<rect x="631" y="669.9" width="6" height="9.0" fill="#26a69a"/>
<rect x="641" y="661.9" width="2" height="41.0" fill="#ef5350"/>
<rect x="639" y="664.9" width="6" height="26.0" fill="#ef5350"/>
<rect x="649" y="659.9" width="2" height="44.0" fill="#ef5350"/>
<rect x="647" y="664.9" width="6" height="27.0" fill="#ef5350"/>
<rect x="657" y="686.9" width="2" height="34.0" fill="#ef5350"/>
<rect x="655" y="707.9" width="6" height="10.0" fill="#ef5350"/>
<rect x="665" y="689.9" width="2" height="15.0" fill="#26a69a"/>
<rect x="663" y="691.9" width="6" height="6.0" fill="#26a69a"/>
<rect x="673" y="700.9" width="2" height="95.9" fill="#ef5350"/>
<rect x="671" y="703.9" width="6" height="93.0" fill="#ef5350"/>
<rect x="681" y="753.9" width="2" height="38.0" fill="#ef5350"/>
<rect x="679" y="773.5" width="6" height="2.0" fill="#ef5350"/>
<rect x="689" y="736.9" width="2" height="35.0" fill="#26a69a"/>
<rect x="687" y="741.9" width="6" height="21.0" fill="#26a69a"/>
<rect x="697" y="725.9" width="2" height="58.0" fill="#ef5350"/>
<rect x="695" y="726.9" width="6" height="49.0" fill="#ef5350"/>
<rect x="705" y="730.9" width="2" height="33.0" fill="#26a69a"/>
<rect x="703" y="734.9" width="6" height="8.0" fill="#26a69a"/>
<rect x="713" y="724.9" width="2" height="43.0" fill="#ef5350"/>
<rect x="711" y="735.9" width="6" height="17.0" fill="#ef5350"/>
<rect x="721" y="720.9" width="2" height="53.0" fill="#ef5350"/>
<rect x="719" y="729.9" width="6" height="39.0" fill="#ef5350"/>
<rect x="729" y="738.9" width="2" height="42.0" fill="#26a69a"/>
<rect x="727" y="754.9" width="6" height="10.0" fill="#26a69a"/>
<rect x="737" y="737.9" width="2" height="35.0" fill="#ef5350"/>
<rect x="735" y="742.9" width="6" height="14.0" fill="#ef5350"/>
<rect x="745" y="725.9" width="2" height="36.0" fill="#ef5350"/>
<rect x="743" y="738.9" width="6" height="8.0" fill="#ef5350"/>
<rect x="753" y="751.9" width="2" height="76.0" fill="#ef5350"/>
<rect x="751" y="752.9" width="6" height="74.0" fill="#ef5350"/>
<rect x="761" y="797.9" width="2" height="36.0" fill="#ef5350"/>
<rect x="759" y="810.8" width="6" height="10.0" fill="#ef5350"/>
<rect x="769" y="756.9" width="2" height="25.0" fill="#26a69a"/>
<rect x="767" y="759.9" width="6" height="20.0" fill="#26a69a"/>
<rect x="777" y="738.9" width="2" height="35.0" fill="#ef5350"/>
<rect x="775" y="750.9" width="6" height="17.0" fill="#ef5350"/>
<rect x="785" y="775.9" width="2" height="31.0" fill="#ef5350"/>
<rect x="783" y="779.9" width="6" height="9.0" fill="#ef5350"/>
<rect x="792" y="750.9" width="2" height="30.0" fill="#26a69a"/>
<rect x="790" y="771.1" width="6" height="2.0" fill="#26a69a"/>
<rect x="800" y="748.9" width="2" height="44.0" fill="#26a69a"/>
<rect x="798" y="761.9" width="6" height="13.0" fill="#26a69a"/>
<rect x="808" y="768.9" width="2" height="46.0" fill="#ef5350"/>
<rect x="806" y="769.9" width="6" height="18.0" fill="#ef5350"/>
<rect x="816" y="744.9" width="2" height="33.0" fill="#26a69a"/>
<rect x="814" y="747.9" width="6" height="27.0" fill="#26a69a"/>
<rect x="824" y="729.9" width="2" height="32.0" fill="#ef5350"/>
<rect x="822" y="729.9" width="6" height="18.0" fill="#ef5350"/>
<rect x="832" y="719.9" width="2" height="40.0" fill="#26a69a"/>
<rect x="830" y="720.9" width="6" height="31.0" fill="#26a69a"/>
<rect x="840" y="667.9" width="2" height="78.0" fill="#26a69a"/>
<rect x="838" y="677.9" width="6" height="68.0" fill="#26a69a"/>
<rect x="848" y="604.0" width="2" height="48.0" fill="#26a69a"/>
<rect x="846" y="618.9" width="6" height="26.0" fill="#26a69a"/>
<rect x="856" y="600.0" width="2" height="34.0" fill="#ef5350"/>
<rect x="854" y="603.0" width="6" height="26.0" fill="#ef5350"/>
<rect x="864" y="608.0" width="2" height="40.0" fill="#26a69a"/>
<rect x="862" y="627.9" width="6" height="5.0" fill="#26a69a"/>
<rect x="872" y="613.9" width="2" height="27.0" fill="#ef5350"/>
<rect x="870" y="622.9" width="6" height="4.0" fill="#ef5350"/>
<rect x="880" y="580.0" width="2" height="51.0" fill="#26a69a"/>
<rect x="878" y="586.0" width="6" height="42.0" fill="#26a69a"/>
<rect x="888" y="554.0" width="2" height="31.0" fill="#ef5350"/>
<rect x="886" y="572.0" width="6" height="13.0" fill="#ef5350"/>
<rect x="896" y="569.0" width="2" height="85.0" fill="#ef5350"/>
<rect x="894" y="574.0" width="6" height="80.0" fill="#ef5350"/>
<rect x="904" y="613.9" width="2" height="36.0" fill="#26a69a"/>
<rect x="902" y="625.9" width="6" height="4.0" fill="#26a69a"/>
<rect x="912" y="652.9" width="2" height="45.0" fill="#26a69a"/>
<rect x="910" y="653.9" width="6" height="14.0" fill="#26a69a"/>
<rect x="920" y="634.9" width="2" height="31.0" fill="#ef5350"/>
<rect x="918" y="648.9" width="6" height="17.0" fill="#ef5350"/>
<rect x="928" y="645.9" width="2" height="43.0" fill="#26a69a"/>
<rect x="926" y="647.9" width="6" height="16.0" fill="#26a69a"/>
<rect x="936" y="700.9" width="2" height="57.0" fill="#ef5350"/>
<rect x="934" y="728.9" width="6" height="2.0" fill="#ef5350"/>
<rect x="944" y="642.9" width="2" height="51.0" fill="#26a69a"/>
<rect x="942" y="649.9" width="6" height="43.0" fill="#26a69a"/>
<rect x="952" y="626.9" width="2" height="34.0" fill="#26a69a"/>
<rect x="950" y="636.9" width="6" height="4.0" fill="#26a69a"/>
<rect x="960" y="633.9" width="2" height="39.0" fill="#ef5350"/>
<rect x="958" y="642.9" width="6" height="29.0" fill="#ef5350"/>
<rect x="968" y="656.9" width="2" height="35.0" fill="#26a69a"/>
<rect x="966" y="658.5" width="6" height="2.0" fill="#26a69a"/>
<rect x="976" y="646.9" width="2" height="25.0" fill="#ef5350"/>
<rect x="974" y="647.9" width="6" height="7.0" fill="#ef5350"/>
<rect x="984" y="632.9" width="2" height="31.0" fill="#ef5350"/>
<rect x="982" y="635.9" width="6" height="6.0" fill="#ef5350"/>
<rect x="992" y="634.9" width="2" height="28.0" fill="#26a69a"/>
<rect x="990" y="645.9" width="6" height="11.0" fill="#26a69a"/>
<rect x="1000" y="637.9" width="2" height="44.0" fill="#ef5350"/>
<rect x="998" y="649.9" width="6" height="27.0" fill="#ef5350"/>
<rect x="1008" y="657.9" width="2" height="34.0" fill="#ef5350"/>
<rect x="1006" y="663.9" width="6" height="14.0" fill="#ef5350"/>
<rect x="1016" y="675.9" width="2" height="37.0" fill="#ef5350"/>
<rect x="1014" y="676.9" width="6" height="31.0" fill="#ef5350"/>
<rect x="1024" y="651.9" width="2" height="54.0" fill="#26a69a"/>
<rect x="1022" y="673.9" width="6" height="32.0" fill="#26a69a"/>
<rect x="1032" y="703.9" width="2" height="56.0" fill="#26a69a"/>
<rect x="1030" y="708.9" width="6" height="28.0" fill="#26a69a"/>
<rect x="1040" y="678.9" width="2" height="70.0" fill="#26a69a"/>
<rect x="1038" y="689.9" width="6" height="52.0" fill="#26a69a"/>
<rect x="1048" y="687.9" width="2" height="63.0" fill="#ef5350"/>
<rect x="1046" y="699.9" width="6" height="50.0" fill="#ef5350"/>
<rect x="1056" y="729.9" width="2" height="72.0" fill="#ef5350"/>
<rect x="1054" y="735.9" width="6" height="45.0" fill="#ef5350"/>
<rect x="1064" y="694.9" width="2" height="31.0" fill="#26a69a"/>
<rect x="1062" y="705.9" width="6" height="8.0" fill="#26a69a"/>
<rect x="1072" y="678.9" width="2" height="29.0" fill="#26a69a"/>
<rect x="1070" y="681.9" width="6" height="20.0" fill="#26a69a"/>
<rect x="1080" y="616.0" width="2" height="39.0" fill="#26a69a"/>
<rect x="1078" y="627.0" width="6" height="27.0" fill="#26a69a"/>
<rect x="1088" y="620.0" width="2" height="74.0" fill="#ef5350"/>
<rect x="1086" y="630.0" width="6" height="62.0" fill="#ef5350"/>
<rect x="1096" y="699.9" width="2" height="73.0" fill="#ef5350"/>
<rect x="1094" y="702.9" width="6" height="20.0" fill="#ef5350"/>
<rect x="1104" y="711.9" width="2" height="76.0" fill="#ef5350"/>
<rect x="1102" y="719.9" width="6" height="57.0" fill="#ef5350"/>
<rect x="1112" y="819.9" width="2" height="51.0" fill="#ef5350"/>
<rect x="1110" y="841.8" width="6" height="12.0" fill="#ef5350"/>
<rect x="1120" y="815.9" width="2" height="51.0" fill="#ef5350"/>
<rect x="1118" y="852.8" width="6" height="5.0" fill="#ef5350"/>
<rect x="1128" y="790.9" width="2" height="45.0" fill="#ef5350"/>
<rect x="1126" y="813.9" width="6" height="22.0" fill="#ef5350"/>
<rect x="1136" y="838.8" width="2" height="59.0" fill="#26a69a"/>
<rect x="1134" y="869.8" width="6" height="24.0" fill="#26a69a"/>
<rect x="1144" y="812.9" width="2" height="46.0" fill="#ef5350"/>
<rect x="1142" y="834.8" width="6" height="8.0" fill="#ef5350"/>
<rect x="1152" y="795.9" width="2" height="65.0" fill="#26a69a"/>
<rect x="1150" y="798.9" width="6" height="41.0" fill="#26a69a"/>
<rect x="1160" y="749.9" width="2" height="53.0" fill="#26a69a"/>
<rect x="1158" y="750.9" width="6" height="27.0" fill="#26a69a"/>
<rect x="1168" y="730.9" width="2" height="23.0" fill="#26a69a"/>
<rect x="1166" y="742.9" width="6" height="7.0" fill="#26a69a"/>
<rect x="1176" y="720.9" width="2" height="31.0" fill="#26a69a"/>
<rect x="1174" y="729.9" width="6" height="11.0" fill="#26a69a"/>
<rect x="1183" y="748.9" width="2" height="57.0" fill="#ef5350"/>
<rect x="1181" y="749.9" width="6" height="27.0" fill="#ef5350"/>
<rect x="1191" y="737.9" width="2" height="35.0" fill="#26a69a"/>
<rect x="1189" y="752.9" width="6" height="15.0" fill="#26a69a"/>
<rect x="1199" y="728.9" width="2" height="37.0" fill="#ef5350"/>
<rect x="1197" y="738.9" width="6" height="19.0" fill="#ef5350"/>
<rect x="1207" y="711.9" width="2" height="25.0" fill="#26a69a"/>
<rect x="1205" y="720.9" width="6" height="10.0" fill="#26a69a"/>
<rect x="1215" y="673.9" width="2" height="38.0" fill="#26a69a"/>
<rect x="1213" y="693.9" width="6" height="17.0" fill="#26a69a"/>
<rect x="1223" y="676.9" width="2" height="24.0" fill="#26a69a"/>
<rect x="1221" y="689.9" width="6" height="7.0" fill="#26a69a"/>
<rect x="1231" y="663.9" width="2" height="18.0" fill="#26a69a"/>
<rect x="1229" y="667.9" width="6" height="14.0" fill="#26a69a"/>
<rect x="1239" y="666.9" width="2" height="32.0" fill="#ef5350"/>
<rect x="1237" y="672.9" width="6" height="2.0" fill="#ef5350"/>
<rect x="1247" y="630.0" width="2" height="67.0" fill="#26a69a"/>
<rect x="1245" y="642.9" width="6" height="47.0" fill="#26a69a"/>
<rect x="1255" y="610.0" width="2" height="56.0" fill="#ef5350"/>
<rect x="1253" y="629.0" width="6" height="36.0" fill="#ef5350"/>
<rect x="1263" y="638.9" width="2" height="28.0" fill="#ef5350"/>
<rect x="1261" y="642.9" width="6" height="14.0" fill="#ef5350"/>
<rect x="1271" y="662.9" width="2" height="34.0" fill="#ef5350"/>
<rect x="1269" y="675.9" width="6" height="9.0" fill="#ef5350"/>
<rect x="1279" y="663.9" width="2" height="45.0" fill="#ef5350"/>
<rect x="1277" y="668.9" width="6" height="39.0" fill="#ef5350"/>
<rect x="1287" y="657.9" width="2" height="55.0" fill="#26a69a"/>
<rect x="1285" y="660.9" width="6" height="49.0" fill="#26a69a"/>
<rect x="1295" y="640.9" width="2" height="29.0" fill="#26a69a"/>
<rect x="1293" y="644.9" width="6" height="18.0" fill="#26a69a"/>
<rect x="1303" y="632.0" width="2" height="29.0" fill="#ef5350"/>
<rect x="1301" y="642.9" width="6" height="2.0" fill="#ef5350"/>
<rect x="1311" y="631.0" width="2" height="19.0" fill="#26a69a"/>
<rect x="1309" y="634.9" width="6" height="9.0" fill="#26a69a"/>
<rect x="1319" y="626.0" width="2" height="25.0" fill="#ef5350"/>
<rect x="1317" y="629.0" width="6" height="5.0" fill="#ef5350"/>
<rect x="1327" y="599.0" width="2" height="38.0" fill="#26a69a"/>
<rect x="1325" y="607.0" width="6" height="29.0" fill="#26a69a"/>
<rect x="1335" y="570.9" width="2" height="43.0" fill="#26a69a"/>
<rect x="1333" y="596.9" width="6" height="9.0" fill="#26a69a"/>
<rect x="1343" y="533.9" width="2" height="44.0" fill="#26a69a"/>
<rect x="1341" y="534.9" width="6" height="37.0" fill="#26a69a"/>
<rect x="1351" y="515.9" width="2" height="25.0" fill="#ef5350"/>
<rect x="1349" y="527.9" width="6" height="4.0" fill="#ef5350"/>
<rect x="1359" y="487.0" width="2" height="27.0" fill="#26a69a"/>
<rect x="1357" y="487.0" width="6" height="25.0" fill="#26a69a"/>
<rect x="1367" y="470.0" width="2" height="36.0" fill="#ef5350"/>
<rect x="1365" y="485.0" width="6" height="2.0" fill="#ef5350"/>
<rect x="1375" y="458.0" width="2" height="32.0" fill="#26a69a"/>
<rect x="1373" y="461.0" width="6" height="27.0" fill="#26a69a"/>
<rect x="1383" y="431.0" width="2" height="35.0" fill="#26a69a"/>
<rect x="1381" y="434.0" width="6" height="31.0" fill="#26a69a"/>
<rect x="1391" y="415.0" width="2" height="32.0" fill="#26a69a"/>
<rect x="1389" y="430.0" width="6" height="5.0" fill="#26a69a"/>
<rect x="1399" y="424.0" width="2" height="36.0" fill="#ef5350"/>
<rect x="1397" y="428.0" width="6" height="30.0" fill="#ef5350"/>
<rect x="1407" y="439.0" width="2" height="28.0" fill="#26a69a"/>
<rect x="1405" y="444.0" width="6" height="16.0" fill="#26a69a"/>
<rect x="1415" y="444.0" width="2" height="29.0" fill="#ef5350"/>
<rect x="1413" y="447.0" width="6" height="9.0" fill="#ef5350"/>
<rect x="1423" y="496.9" width="2" height="30.0" fill="#26a69a"/>
<rect x="1421" y="517.9" width="6" height="5.0" fill="#26a69a"/>
<rect x="1431" y="555.9" width="2" height="47.0" fill="#ef5350"/>
<rect x="1429" y="557.9" width="6" height="9.0" fill="#ef5350"/>
<rect x="1439" y="574.9" width="2" height="58.0" fill="#ef5350"/>
<rect x="1437" y="578.9" width="6" height="15.0" fill="#ef5350"/>
<rect x="1447" y="521.9" width="2" height="31.0" fill="#ef5350"/>
<rect x="1445" y="533.9" width="6" height="5.0" fill="#ef5350"/>
<rect x="1455" y="523.9" width="2" height="25.0" fill="#26a69a"/>
<rect x="1453" y="528.9" width="6" height="16.0" fill="#26a69a"/>
<rect x="1463" y="512.9" width="2" height="37.0" fill="#26a69a"/>
<rect x="1461" y="522.9" width="6" height="9.0" fill="#26a69a"/>
<rect x="1471" y="506.9" width="2" height="32.0" fill="#ef5350"/>
<rect x="1469" y="508.9" width="6" height="22.0" fill="#ef5350"/>
<rect x="1479" y="523.9" width="2" height="42.0" fill="#ef5350"/>
<rect x="1477" y="532.9" width="6" height="12.0" fill="#ef5350"/>
<rect x="1487" y="555.9" width="2" height="93.0" fill="#ef5350"/>
<rect x="1485" y="566.9" width="6" height="75.0" fill="#ef5350"/>
<rect x="1495" y="588.9" width="2" height="41.0" fill="#26a69a"/>
<rect x="1493" y="596.9" width="6" height="32.0" fill="#26a69a"/>
<rect x="1503" y="537.9" width="2" height="89.0" fill="#26a69a"/>
<rect x="1501" y="548.9" width="6" height="77.0" fill="#26a69a"/>
<rect x="1511" y="492.0" width="2" height="74.0" fill="#ef5350"/>
<rect x="1509" y="518.9" width="6" height="35.0" fill="#ef5350"/>
<rect x="1519" y="533.9" width="2" height="52.0" fill="#ef5350"/>
<rect x="1517" y="539.9" width="6" height="46.0" fill="#ef5350"/>
<rect x="1527" y="573.9" width="2" height="74.0" fill="#ef5350"/>
<rect x="1525" y="583.9" width="6" height="23.0" fill="#ef5350"/>
<rect x="1535" y="559.9" width="2" height="65.0" fill="#26a69a"/>
<rect x="1533" y="562.9" width="6" height="52.0" fill="#26a69a"/>
<rect x="1543" y="506.9" width="2" height="57.0" fill="#26a69a"/>
<rect x="1541" y="507.9" width="6" height="30.0" fill="#26a69a"/>
<rect x="1551" y="495.9" width="2" height="27.0" fill="#26a69a"/>
<rect x="1549" y="512.9" width="6" height="6.0" fill="#26a69a"/>
<rect x="1559" y="509.9" width="2" height="32.0" fill="#ef5350"/>
<rect x="1557" y="518.9" width="6" height="20.0" fill="#ef5350"/>
<rect x="1567" y="465.0" width="2" height="81.0" fill="#ef5350"/>
<rect x="1565" y="498.9" width="6" height="40.0" fill="#ef5350"/>
<rect x="1575" y="518.9" width="2" height="39.0" fill="#26a69a"/>
<rect x="1573" y="526.9" width="6" height="18.0" fill="#26a69a"/>
<rect x="1583" y="506.9" width="2" height="42.0" fill="#ef5350"/>
<rect x="1581" y="512.9" width="6" height="36.0" fill="#ef5350"/>
<rect x="1590" y="506.9" width="2" height="54.0" fill="#26a69a"/>
<rect x="1588" y="510.9" width="6" height="39.0" fill="#26a69a"/>
<rect x="1598" y="451.0" width="2" height="40.0" fill="#26a69a"/>
<rect x="1596" y="458.0" width="6" height="30.0" fill="#26a69a"/>
<rect x="1606" y="467.0" width="2" height="47.0" fill="#ef5350"/>
<rect x="1604" y="473.0" width="6" height="30.0" fill="#ef5350"/>
<rect x="1614" y="448.0" width="2" height="62.0" fill="#26a69a"/>
<rect x="1612" y="461.0" width="6" height="37.0" fill="#26a69a"/>
<rect x="1622" y="474.0" width="2" height="48.0" fill="#ef5350"/>
<rect x="1620" y="489.0" width="6" height="24.0" fill="#ef5350"/>
<rect x="1630" y="493.0" width="2" height="40.0" fill="#26a69a"/>
<rect x="1628" y="512.9" width="6" height="8.0" fill="#26a69a"/>
<rect x="1638" y="476.0" width="2" height="37.0" fill="#26a69a"/>
<rect x="1636" y="477.0" width="6" height="25.0" fill="#26a69a"/>
<rect x="1646" y="450.0" width="2" height="44.0" fill="#26a69a"/>
<rect x="1644" y="456.0" width="6" height="37.0" fill="#26a69a"/>
<rect x="1654" y="434.0" width="2" height="41.0" fill="#ef5350"/>
<rect x="1652" y="454.0" width="6" height="2.0" fill="#ef5350"/>
<rect x="1662" y="529.9" width="2" height="60.0" fill="#ef5350"/>
<rect x="1660" y="568.9" width="6" height="11.0" fill="#ef5350"/>
<rect x="1670" y="653.9" width="2" height="119.9" fill="#ef5350"/>
<rect x="1668" y="659.9" width="6" height="79.0" fill="#ef5350"/>
<rect x="1678" y="652.9" width="2" height="81.0" fill="#26a69a"/>
<rect x="1676" y="659.9" width="6" height="59.0" fill="#26a69a"/>
<rect x="1686" y="629.9" width="2" height="114.9" fill="#ef5350"/>
<rect x="1684" y="671.9" width="6" height="63.0" fill="#ef5350"/>
<rect x="1694" y="693.9" width="2" height="128.9" fill="#ef5350"/>
<rect x="1692" y="709.9" width="6" height="67.0" fill="#ef5350"/>
<rect x="1702" y="799.2" width="2" height="101.7" fill="#26a69a"/>
<rect x="1700" y="809.9" width="6" height="79.3" fill="#26a69a"/>
<rect x="1710" y="686.9" width="2" height="56.0" fill="#26a69a"/>
<rect x="1708" y="704.9" width="6" height="16.0" fill="#26a69a"/>
<rect x="1718" y="731.9" width="2" height="55.0" fill="#ef5350"/>
<rect x="1716" y="750.9" width="6" height="17.0" fill="#ef5350"/>
<rect x="1726" y="754.9" width="2" height="63.0" fill="#26a69a"/>
<rect x="1724" y="776.4" width="6" height="2.0" fill="#26a69a"/>
<rect x="1734" y="743.9" width="2" height="88.0" fill="#26a69a"/>
<rect x="1732" y="802.8" width="6" height="13.0" fill="#26a69a"/>
<rect x="1742" y="755.9" width="2" height="68.0" fill="#26a69a"/>
<rect x="1740" y="780.8" width="6" height="17.0" fill="#26a69a"/>
<rect x="1750" y="732.9" width="2" height="67.0" fill="#26a69a"/>
<rect x="1748" y="749.9" width="6" height="44.0" fill="#26a69a"/>
<rect x="1758" y="706.9" width="2" height="95.9" fill="#ef5350"/>
<rect x="1756" y="729.9" width="6" height="64.0" fill="#ef5350"/>
<rect x="1766" y="853.1" width="2" height="79.8" fill="#ef5350"/>
<rect x="1764" y="857.2" width="6" height="61.8" fill="#ef5350"/>
<rect x="1774" y="854.0" width="2" height="152.0" fill="#ef5350"/>
<rect x="1772" y="872.1" width="6" height="132.9" fill="#ef5350"/>
<rect x="1782" y="854.0" width="2" height="246.5" fill="#26a69a"/>
<rect x="1780" y="953.1" width="6" height="133.9" fill="#26a69a"/>
<rect x="1790" y="938.2" width="2" height="71.7" fill="#ef5350"/>
<rect x="1788" y="948.0" width="6" height="9.0" fill="#ef5350"/>
<rect x="1798" y="872.1" width="2" height="49.7" fill="#ef5350"/>
<rect x="1796" y="893.7" width="6" height="2.0" fill="#ef5350"/>
<rect x="1806" y="923.3" width="2" height="47.5" fill="#ef5350"/>
<rect x="1804" y="936.1" width="6" height="24.7" fill="#ef5350"/>
</g>
<line x1="20" x2="1962" y1="960.3" y2="960.3" stroke="#ef5350" stroke-width="2" stroke-dasharray="2 4"/>
<g clip-path="url(#cpr)">
<defs><linearGradient id="gob" x1="0" y1="1439.1" x2="0" y2="1510.5" gradientUnits="userSpaceOnUse"><stop offset="0" stop-color="#4caf50" stop-opacity="0.35"/><stop offset="1" stop-color="#4caf50" stop-opacity="0"/></linearGradient>
<linearGradient id="gos" x1="0" y1="1748.2" x2="0" y2="1819.6" gradientUnits="userSpaceOnUse"><stop offset="0" stop-color="#ff5252" stop-opacity="0"/><stop offset="1" stop-color="#ff5252" stop-opacity="0.35"/></linearGradient></defs>
<path d="M19.4 1510.5 L19.4 1510.5 L27.4 1510.5 L35.4 1510.5 L43.4 1510.5 L51.3 1510.5 L59.3 1510.5 L67.3 1510.5 L75.3 1505.3 L83.3 1500.0 L91.2 1510.5 L99.2 1510.5 L107.2 1510.5 L115.2 1510.5 L123.2 1510.5 L131.1 1510.5 L139.1 1510.5 L147.1 1510.5 L155.1 1510.5 L163.1 1510.5 L171.0 1510.5 L179.0 1510.5 L187.0 1510.5 L195.0 1510.5 L203.0 1510.5 L210.9 1510.5 L218.9 1510.5 L226.9 1510.5 L234.9 1510.5 L242.9 1510.5 L250.8 1510.5 L258.8 1510.5 L266.8 1510.5 L274.8 1510.5 L282.8 1510.5 L290.7 1510.5 L298.7 1510.5 L306.7 1510.5 L314.7 1510.5 L322.7 1510.5 L330.6 1510.5 L338.6 1510.5 L346.6 1510.5 L354.6 1510.5 L362.6 1510.5 L370.5 1510.5 L378.5 1510.5 L386.5 1510.5 L394.5 1510.5 L402.5 1510.5 L410.4 1510.5 L418.4 1510.5 L426.4 1510.5 L434.4 1510.5 L442.4 1510.5 L450.3 1510.5 L458.3 1510.5 L466.3 1510.5 L474.3 1510.5 L482.3 1510.5 L490.2 1510.5 L498.2 1510.5 L506.2 1510.5 L514.2 1510.5 L522.2 1510.5 L530.1 1510.5 L538.1 1510.5 L546.1 1510.5 L554.1 1510.5 L562.1 1510.5 L570.0 1510.5 L578.0 1510.5 L586.0 1510.5 L594.0 1510.5 L602.0 1510.5 L609.9 1510.5 L617.9 1510.5 L625.9 1510.5 L633.9 1510.5 L641.9 1510.5 L649.8 1510.5 L657.8 1510.5 L665.8 1510.5 L673.8 1510.5 L681.8 1510.5 L689.7 1510.5 L697.7 1510.5 L705.7 1510.5 L713.7 1510.5 L721.7 1510.5 L729.6 1510.5 L737.6 1510.5 L745.6 1510.5 L753.6 1510.5 L761.6 1510.5 L769.5 1510.5 L777.5 1510.5 L785.5 1510.5 L793.5 1510.5 L801.5 1510.5 L809.4 1510.5 L817.4 1510.5 L825.4 1510.5 L833.4 1510.5 L841.4 1510.5 L849.3 1510.5 L857.3 1510.5 L865.3 1510.5 L873.3 1510.5 L881.3 1510.5 L889.2 1510.5 L897.2 1510.5 L905.2 1510.5 L913.2 1510.5 L921.2 1510.5 L929.1 1510.5 L937.1 1510.5 L945.1 1510.5 L953.1 1510.5 L961.1 1510.5 L969.0 1510.5 L977.0 1510.5 L985.0 1510.5 L993.0 1510.5 L1001.0 1510.5 L1008.9 1510.5 L1016.9 1510.5 L1024.9 1510.5 L1032.9 1510.5 L1040.9 1510.5 L1048.8 1510.5 L1056.8 1510.5 L1064.8 1510.5 L1072.8 1510.5 L1080.8 1510.5 L1088.7 1510.5 L1096.7 1510.5 L1104.7 1510.5 L1112.7 1510.5 L1120.7 1510.5 L1128.6 1510.5 L1136.6 1510.5 L1144.6 1510.5 L1152.6 1510.5 L1160.6 1510.5 L1168.5 1510.5 L1176.5 1510.5 L1184.5 1510.5 L1192.5 1510.5 L1200.5 1510.5 L1208.4 1510.5 L1216.4 1510.5 L1224.4 1510.5 L1232.4 1510.5 L1240.4 1510.5 L1248.3 1510.5 L1256.3 1510.5 L1264.3 1510.5 L1272.3 1510.5 L1280.3 1510.5 L1288.2 1510.5 L1296.2 1510.5 L1304.2 1510.5 L1312.2 1510.5 L1320.2 1510.5 L1328.1 1510.5 L1336.1 1510.5 L1344.1 1503.4 L1352.1 1501.8 L1360.1 1479.4 L1368.0 1479.2 L1376.0 1467.4 L1384.0 1456.1 L1392.0 1454.5 L1400.0 1497.0 L1407.9 1489.4 L1415.9 1507.3 L1423.9 1510.5 L1431.9 1510.5 L1439.9 1510.5 L1447.8 1510.5 L1455.8 1510.5 L1463.8 1510.5 L1471.8 1510.5 L1479.8 1510.5 L1487.7 1510.5 L1495.7 1510.5 L1503.7 1510.5 L1511.7 1510.5 L1519.7 1510.5 L1527.6 1510.5 L1535.6 1510.5 L1543.6 1510.5 L1551.6 1510.5 L1559.6 1510.5 L1567.5 1510.5 L1575.5 1510.5 L1583.5 1510.5 L1591.5 1510.5 L1599.5 1510.5 L1607.4 1510.5 L1615.4 1510.5 L1623.4 1510.5 L1631.4 1510.5 L1639.4 1510.5 L1647.3 1510.5 L1655.3 1510.5 L1663.3 1510.5 L1671.3 1510.5 L1679.3 1510.5 L1687.2 1510.5 L1695.2 1510.5 L1703.2 1510.5 L1711.2 1510.5 L1719.2 1510.5 L1727.1 1510.5 L1735.1 1510.5 L1743.1 1510.5 L1751.1 1510.5 L1759.1 1510.5 L1767.0 1510.5 L1775.0 1510.5 L1783.0 1510.5 L1791.0 1510.5 L1799.0 1510.5 L1806.9 1510.5 L1806.9 1510.5 Z" fill="url(#gob)"/>
<path d="M19.4 1748.2 L19.4 1748.2 L27.4 1748.2 L35.4 1748.2 L43.4 1748.2 L51.3 1748.2 L59.3 1748.2 L67.3 1748.2 L75.3 1748.2 L83.3 1748.2 L91.2 1748.2 L99.2 1748.2 L107.2 1748.2 L115.2 1748.2 L123.2 1748.2 L131.1 1748.2 L139.1 1748.2 L147.1 1748.2 L155.1 1748.2 L163.1 1748.2 L171.0 1748.2 L179.0 1748.2 L187.0 1748.2 L195.0 1748.2 L203.0 1748.2 L210.9 1748.2 L218.9 1748.2 L226.9 1748.2 L234.9 1748.2 L242.9 1748.2 L250.8 1748.2 L258.8 1748.2 L266.8 1748.2 L274.8 1748.2 L282.8 1748.2 L290.7 1748.2 L298.7 1748.2 L306.7 1748.2 L314.7 1748.2 L322.7 1748.2 L330.6 1748.2 L338.6 1748.2 L346.6 1748.2 L354.6 1748.2 L362.6 1748.2 L370.5 1748.2 L378.5 1748.2 L386.5 1748.2 L394.5 1748.2 L402.5 1748.2 L410.4 1748.2 L418.4 1748.2 L426.4 1748.2 L434.4 1748.2 L442.4 1748.2 L450.3 1748.2 L458.3 1748.2 L466.3 1748.2 L474.3 1748.2 L482.3 1748.2 L490.2 1748.2 L498.2 1748.2 L506.2 1748.2 L514.2 1748.2 L522.2 1748.2 L530.1 1748.2 L538.1 1748.2 L546.1 1748.2 L554.1 1748.2 L562.1 1748.2 L570.0 1748.2 L578.0 1748.2 L586.0 1748.2 L594.0 1748.2 L602.0 1748.2 L609.9 1748.2 L617.9 1748.2 L625.9 1748.2 L633.9 1748.2 L641.9 1748.2 L649.8 1748.2 L657.8 1748.2 L665.8 1748.2 L673.8 1748.2 L681.8 1748.2 L689.7 1748.2 L697.7 1748.2 L705.7 1748.2 L713.7 1748.2 L721.7 1748.2 L729.6 1748.2 L737.6 1748.2 L745.6 1748.2 L753.6 1748.2 L761.6 1748.2 L769.5 1748.2 L777.5 1748.2 L785.5 1748.2 L793.5 1748.2 L801.5 1748.2 L809.4 1748.2 L817.4 1748.2 L825.4 1748.2 L833.4 1748.2 L841.4 1748.2 L849.3 1748.2 L857.3 1748.2 L865.3 1748.2 L873.3 1748.2 L881.3 1748.2 L889.2 1748.2 L897.2 1748.2 L905.2 1748.2 L913.2 1748.2 L921.2 1748.2 L929.1 1748.2 L937.1 1748.2 L945.1 1748.2 L953.1 1748.2 L961.1 1748.2 L969.0 1748.2 L977.0 1748.2 L985.0 1748.2 L993.0 1748.2 L1001.0 1748.2 L1008.9 1748.2 L1016.9 1748.2 L1024.9 1748.2 L1032.9 1748.2 L1040.9 1748.2 L1048.8 1748.2 L1056.8 1748.2 L1064.8 1748.2 L1072.8 1748.2 L1080.8 1748.2 L1088.7 1748.2 L1096.7 1748.2 L1104.7 1748.2 L1112.7 1748.2 L1120.7 1748.2 L1128.6 1748.2 L1136.6 1748.2 L1144.6 1748.2 L1152.6 1748.2 L1160.6 1748.2 L1168.5 1748.2 L1176.5 1748.2 L1184.5 1748.2 L1192.5 1748.2 L1200.5 1748.2 L1208.4 1748.2 L1216.4 1748.2 L1224.4 1748.2 L1232.4 1748.2 L1240.4 1748.2 L1248.3 1748.2 L1256.3 1748.2 L1264.3 1748.2 L1272.3 1748.2 L1280.3 1748.2 L1288.2 1748.2 L1296.2 1748.2 L1304.2 1748.2 L1312.2 1748.2 L1320.2 1748.2 L1328.1 1748.2 L1336.1 1748.2 L1344.1 1748.2 L1352.1 1748.2 L1360.1 1748.2 L1368.0 1748.2 L1376.0 1748.2 L1384.0 1748.2 L1392.0 1748.2 L1400.0 1748.2 L1407.9 1748.2 L1415.9 1748.2 L1423.9 1748.2 L1431.9 1748.2 L1439.9 1748.2 L1447.8 1748.2 L1455.8 1748.2 L1463.8 1748.2 L1471.8 1748.2 L1479.8 1748.2 L1487.7 1748.2 L1495.7 1748.2 L1503.7 1748.2 L1511.7 1748.2 L1519.7 1748.2 L1527.6 1748.2 L1535.6 1748.2 L1543.6 1748.2 L1551.6 1748.2 L1559.6 1748.2 L1567.5 1748.2 L1575.5 1748.2 L1583.5 1748.2 L1591.5 1748.2 L1599.5 1748.2 L1607.4 1748.2 L1615.4 1748.2 L1623.4 1748.2 L1631.4 1748.2 L1639.4 1748.2 L1647.3 1748.2 L1655.3 1748.2 L1663.3 1748.2 L1671.3 1748.2 L1679.3 1748.2 L1687.2 1748.2 L1695.2 1748.2 L1703.2 1748.2 L1711.2 1748.2 L1719.2 1748.2 L1727.1 1748.2 L1735.1 1748.2 L1743.1 1748.2 L1751.1 1748.2 L1759.1 1748.2 L1767.0 1748.2 L1775.0 1759.7 L1783.0 1748.2 L1791.0 1748.2 L1799.0 1748.2 L1806.9 1748.2 L1806.9 1748.2 Z" fill="url(#gos)"/>
<polyline points="19.4,1531.3 27.4,1528.0 35.4,1523.4 43.4,1537.8 51.3,1526.6 59.3,1521.7 67.3,1511.5 75.3,1505.3 83.3,1500.0 91.2,1520.1 99.2,1572.5 107.2,1541.0 115.2,1527.2 123.2,1553.0 131.1,1566.6 139.1,1560.4 147.1,1569.8 155.1,1555.5 163.1,1539.7 171.0,1535.7 179.0,1538.4 187.0,1561.7 195.0,1590.9 203.0,1597.4 210.9,1622.1 218.9,1656.3 226.9,1631.1 234.9,1663.5 242.9,1676.5 250.8,1703.4 258.8,1660.0 266.8,1669.1 274.8,1622.4 282.8,1639.0 290.7,1620.8 298.7,1581.4 306.7,1597.5 314.7,1625.3 322.7,1611.5 330.6,1596.8 338.6,1616.1 346.6,1585.7 354.6,1573.0 362.6,1543.3 370.5,1557.3 378.5,1585.1 386.5,1596.9 394.5,1610.7 402.5,1617.0 410.4,1576.7 418.4,1588.7 426.4,1586.7 434.4,1624.1 442.4,1599.3 450.3,1594.1 458.3,1605.1 466.3,1640.8 474.3,1607.8 482.3,1602.8 490.2,1630.7 498.2,1697.7 506.2,1656.2 514.2,1646.4 522.2,1637.2 530.1,1607.4 538.1,1611.3 546.1,1622.0 554.1,1628.8 562.1,1608.2 570.0,1586.2 578.0,1589.4 586.0,1595.5 594.0,1581.9 602.0,1606.5 609.9,1604.3 617.9,1594.3 625.9,1609.7 633.9,1631.0 641.9,1649.3 649.8,1650.1 657.8,1672.6 665.8,1645.2 673.8,1718.2 681.8,1697.4 689.7,1666.9 697.7,1688.6 705.7,1653.7 713.7,1665.8 721.7,1676.4 729.6,1663.7 737.6,1665.2 745.6,1655.4 753.6,1710.2 761.6,1704.2 769.5,1648.5 777.5,1654.2 785.5,1669.3 793.5,1653.1 801.5,1644.7 809.4,1665.4 817.4,1629.3 825.4,1629.3 833.4,1606.0 841.4,1573.6 849.3,1537.6 857.3,1547.9 865.3,1547.3 873.3,1546.7 881.3,1521.2 889.2,1520.6 897.2,1596.8 905.2,1576.7 913.2,1603.1 921.2,1614.0 929.1,1599.5 937.1,1666.1 945.1,1607.2 953.1,1599.1 961.1,1625.0 969.0,1615.7 977.0,1613.1 985.0,1603.6 993.0,1607.2 1001.0,1634.4 1008.9,1635.2 1016.9,1660.5 1024.9,1629.0 1032.9,1657.6 1040.9,1640.3 1048.8,1684.2 1056.8,1703.2 1064.8,1640.2 1072.8,1623.1 1080.8,1588.2 1088.7,1633.1 1096.7,1651.8 1104.7,1681.1 1112.7,1715.7 1120.7,1717.4 1128.6,1700.3 1136.6,1715.8 1144.6,1694.6 1152.6,1662.4 1160.6,1631.3 1168.5,1626.3 1176.5,1617.9 1184.5,1648.6 1192.5,1632.2 1200.5,1635.6 1208.4,1610.1 1216.4,1593.0 1224.4,1590.4 1232.4,1576.3 1240.4,1582.4 1248.3,1561.8 1256.3,1583.0 1264.3,1577.4 1272.3,1604.4 1280.3,1625.0 1288.2,1588.8 1296.2,1577.7 1304.2,1577.4 1312.2,1570.3 1320.2,1569.5 1328.1,1548.9 1336.1,1541.6 1344.1,1503.4 1352.1,1501.8 1360.1,1479.4 1368.0,1479.2 1376.0,1467.4 1384.0,1456.1 1392.0,1454.5 1400.0,1497.0 1407.9,1489.4 1415.9,1507.3 1423.9,1585.1 1431.9,1631.6 1439.9,1653.7 1447.8,1608.3 1455.8,1600.9 1463.8,1596.3 1471.8,1604.2 1479.8,1618.1 1487.7,1693.3 1495.7,1654.1 1503.7,1618.4 1511.7,1622.2 1519.7,1645.9 1527.6,1660.6 1535.6,1626.0 1543.6,1589.4 1551.6,1593.5 1559.6,1614.5 1567.5,1614.5 1575.5,1605.3 1583.5,1624.7 1591.5,1595.1 1599.5,1560.4 1607.4,1599.8 1615.4,1573.7 1623.4,1614.3 1631.4,1614.3 1639.4,1590.4 1647.3,1577.4 1655.3,1577.1 1663.3,1667.1 1671.3,1735.0 1679.3,1685.5 1687.2,1712.4 1695.2,1725.9 1703.2,1736.1 1711.2,1676.3 1719.2,1698.2 1727.1,1701.1 1735.1,1710.1 1743.1,1697.0 1751.1,1678.7 1759.1,1696.3 1767.0,1737.6 1775.0,1759.7 1783.0,1729.5 1791.0,1730.6 1799.0,1695.6 1806.9,1716.7" fill="none" stroke="#7e57c2" stroke-width="2" stroke-linejoin="round"/>
<polyline points="19.4,1577.3 27.4,1567.4 35.4,1559.1 43.4,1553.8 51.3,1548.5 59.3,1543.4 67.3,1538.1 75.3,1532.8 83.3,1527.2 91.2,1525.6 99.2,1528.5 107.2,1528.8 115.2,1526.6 123.2,1528.5 131.1,1531.1 139.1,1533.4 147.1,1536.7 155.1,1537.9 163.1,1538.9 171.0,1539.9 179.0,1541.8 187.0,1545.8 195.0,1552.3 203.0,1557.8 210.9,1561.4 218.9,1569.6 226.9,1577.0 234.9,1584.9 242.9,1592.8 250.8,1603.0 258.8,1609.4 266.8,1617.5 274.8,1623.5 282.8,1630.8 290.7,1636.7 298.7,1638.1 306.7,1638.6 314.7,1640.6 322.7,1639.8 330.6,1635.6 338.6,1634.5 346.6,1629.0 354.6,1621.6 362.6,1610.1 370.5,1602.8 378.5,1596.8 386.5,1595.0 394.5,1592.9 402.5,1592.7 410.4,1592.3 418.4,1591.7 426.4,1589.0 434.4,1589.9 442.4,1590.0 450.3,1588.5 458.3,1589.9 466.3,1594.7 474.3,1599.3 482.3,1602.6 490.2,1605.8 498.2,1613.0 506.2,1616.3 514.2,1618.4 522.2,1622.7 530.1,1624.0 538.1,1625.8 546.1,1625.6 554.1,1627.7 562.1,1628.7 570.0,1627.4 578.0,1623.7 586.0,1622.8 594.0,1621.3 602.0,1619.6 609.9,1613.0 617.9,1608.5 625.9,1605.9 633.9,1605.5 641.9,1608.5 649.8,1611.2 657.8,1614.9 665.8,1616.0 673.8,1623.9 681.8,1631.8 689.7,1637.4 697.7,1644.0 705.7,1649.1 713.7,1653.4 721.7,1658.5 729.6,1663.5 737.6,1667.4 745.6,1669.2 753.6,1673.5 761.6,1677.4 769.5,1675.7 777.5,1676.3 785.5,1672.8 793.5,1669.6 801.5,1668.1 809.4,1666.4 817.4,1664.7 825.4,1662.1 833.4,1657.0 841.4,1650.6 849.3,1641.5 857.3,1633.8 865.3,1622.2 873.3,1610.9 881.3,1601.8 889.2,1592.3 897.2,1587.1 905.2,1581.7 913.2,1578.7 921.2,1575.0 929.1,1572.9 937.1,1575.5 945.1,1575.6 953.1,1577.4 961.1,1583.7 969.0,1588.5 977.0,1593.2 985.0,1597.3 993.0,1603.4 1001.0,1611.5 1008.9,1614.3 1016.9,1620.3 1024.9,1622.1 1032.9,1625.2 1040.9,1628.2 1048.8,1629.4 1056.8,1636.3 1064.8,1639.2 1072.8,1639.1 1080.8,1637.1 1088.7,1638.6 1096.7,1642.0 1104.7,1647.3 1112.7,1653.1 1120.7,1659.0 1128.6,1661.8 1136.6,1668.0 1144.6,1670.6 1152.6,1672.2 1160.6,1668.4 1168.5,1662.9 1176.5,1661.4 1184.5,1663.2 1192.5,1666.3 1200.5,1666.5 1208.4,1663.5 1216.4,1657.2 1224.4,1648.3 1232.4,1638.2 1240.4,1629.8 1248.3,1618.8 1256.3,1610.8 1264.3,1604.7 1272.3,1602.8 1280.3,1602.7 1288.2,1600.6 1296.2,1595.6 1304.2,1591.7 1312.2,1587.0 1320.2,1584.1 1328.1,1581.0 1336.1,1577.5 1344.1,1572.3 1352.1,1566.5 1360.1,1560.6 1368.0,1553.2 1376.0,1545.3 1384.0,1534.8 1392.0,1522.6 1400.0,1516.0 1407.9,1509.7 1415.9,1504.7 1423.9,1505.7 1431.9,1510.2 1439.9,1517.7 1447.8,1522.4 1455.8,1529.4 1463.8,1536.2 1471.8,1545.1 1479.8,1555.0 1487.7,1571.1 1495.7,1585.3 1503.7,1597.0 1511.7,1605.9 1519.7,1617.1 1527.6,1628.1 1535.6,1631.0 1543.6,1628.0 1551.6,1623.7 1559.6,1624.1 1567.5,1625.1 1575.5,1625.7 1583.5,1627.2 1591.5,1625.5 1599.5,1616.0 1607.4,1612.2 1615.4,1609.0 1623.4,1608.4 1631.4,1606.2 1639.4,1601.1 1647.3,1597.7 1655.3,1596.8 1663.3,1602.1 1671.3,1610.7 1679.3,1615.7 1687.2,1623.4 1695.2,1630.6 1703.2,1640.7 1711.2,1649.0 1719.2,1656.0 1727.1,1665.1 1735.1,1671.9 1743.1,1677.8 1751.1,1684.1 1759.1,1692.6 1767.0,1704.1 1775.0,1710.7 1783.0,1710.3 1791.0,1713.5 1799.0,1712.3 1806.9,1711.7" fill="none" stroke="#fdd835" stroke-width="2" stroke-linejoin="round"/>
</g>
<g clip-path="url(#cpd)">
<rect x="16" y="1891.6" width="6" height="44.5" fill="#b2dfdb"/>
<rect x="24" y="1895.2" width="6" height="40.9" fill="#b2dfdb"/>
<rect x="32" y="1899.1" width="6" height="37.0" fill="#b2dfdb"/>
<rect x="40" y="1905.6" width="6" height="30.5" fill="#b2dfdb"/>
<rect x="48" y="1909.5" width="6" height="26.6" fill="#b2dfdb"/>
<rect x="56" y="1913.1" width="6" height="23.0" fill="#b2dfdb"/>
<rect x="64" y="1915.1" width="6" height="21.0" fill="#b2dfdb"/>
<rect x="72" y="1917.0" width="6" height="19.1" fill="#b2dfdb"/>
<rect x="80" y="1918.8" width="6" height="17.3" fill="#b2dfdb"/>
<rect x="88" y="1923.5" width="6" height="12.6" fill="#b2dfdb"/>
<rect x="96" y="1933.0" width="6" height="3.1" fill="#b2dfdb"/>
<rect x="104" y="1934.6" width="6" height="1.5" fill="#b2dfdb"/>
<rect x="112" y="1934.0" width="6" height="2.1" fill="#26a69a"/>
<rect x="120" y="1936.1" width="6" height="1.1" fill="#ff5252"/>
<rect x="128" y="1936.1" width="6" height="5.5" fill="#ff5252"/>
<rect x="136" y="1936.1" width="6" height="7.8" fill="#ff5252"/>
<rect x="144" y="1936.1" width="6" height="10.7" fill="#ff5252"/>
<rect x="152" y="1936.1" width="6" height="10.7" fill="#ff5252"/>
<rect x="160" y="1936.1" width="6" height="8.5" fill="#ffcdd2"/>
<rect x="168" y="1936.1" width="6" height="6.9" fill="#ffcdd2"/>
<rect x="176" y="1936.1" width="6" height="6.6" fill="#ffcdd2"/>
<rect x="184" y="1936.1" width="6" height="8.7" fill="#ff5252"/>
<rect x="192" y="1936.1" width="6" height="12.8" fill="#ff5252"/>
<rect x="200" y="1936.1" width="6" height="16.0" fill="#ff5252"/>
<rect x="208" y="1936.1" width="6" height="20.2" fill="#ff5252"/>
<rect x="216" y="1936.1" width="6" height="25.8" fill="#ff5252"/>
<rect x="224" y="1936.1" width="6" height="26.2" fill="#ff5252"/>
<rect x="232" y="1936.1" width="6" height="29.2" fill="#ff5252"/>
<rect x="240" y="1936.1" width="6" height="31.6" fill="#ff5252"/>
<rect x="248" y="1936.1" width="6" height="35.4" fill="#ff5252"/>
<rect x="256" y="1936.1" width="6" height="32.2" fill="#ffcdd2"/>
<rect x="264" y="1936.1" width="6" height="29.9" fill="#ffcdd2"/>
<rect x="272" y="1936.1" width="6" height="22.2" fill="#ffcdd2"/>
<rect x="280" y="1936.1" width="6" height="18.2" fill="#ffcdd2"/>
<rect x="288" y="1936.1" width="6" height="12.8" fill="#ffcdd2"/>
<rect x="296" y="1936.1" width="6" height="3.7" fill="#ffcdd2"/>
<rect x="304" y="1935.7" width="6" height="1.0" fill="#26a69a"/>
<rect x="312" y="1936.1" width="6" height="1.0" fill="#ff5252"/>
<rect x="320" y="1935.0" width="6" height="1.1" fill="#26a69a"/>
<rect x="328" y="1932.5" width="6" height="3.6" fill="#26a69a"/>
<rect x="336" y="1933.2" width="6" height="2.9" fill="#b2dfdb"/>
<rect x="344" y="1930.0" width="6" height="6.1" fill="#26a69a"/>
<rect x="352" y="1926.7" width="6" height="9.4" fill="#26a69a"/>
<rect x="360" y="1920.6" width="6" height="15.5" fill="#26a69a"/>
<rect x="368" y="1919.0" width="6" height="17.1" fill="#26a69a"/>
<rect x="376" y="1921.9" width="6" height="14.2" fill="#b2dfdb"/>
<rect x="383" y="1925.8" width="6" height="10.3" fill="#b2dfdb"/>
<rect x="391" y="1930.5" width="6" height="5.6" fill="#b2dfdb"/>
<rect x="399" y="1934.6" width="6" height="1.5" fill="#b2dfdb"/>
<rect x="407" y="1932.7" width="6" height="3.4" fill="#26a69a"/>
<rect x="415" y="1933.0" width="6" height="3.1" fill="#b2dfdb"/>
<rect x="423" y="1933.4" width="6" height="2.7" fill="#b2dfdb"/>
<rect x="431" y="1936.1" width="6" height="1.6" fill="#ff5252"/>
<rect x="439" y="1936.1" width="6" height="1.7" fill="#ff5252"/>
<rect x="447" y="1936.1" width="6" height="1.3" fill="#ffcdd2"/>
<rect x="455" y="1936.1" width="6" height="2.3" fill="#ff5252"/>
<rect x="463" y="1936.1" width="6" height="6.5" fill="#ff5252"/>
<rect x="471" y="1936.1" width="6" height="5.6" fill="#ffcdd2"/>
<rect x="479" y="1936.1" width="6" height="4.4" fill="#ffcdd2"/>
<rect x="487" y="1936.1" width="6" height="6.4" fill="#ff5252"/>
<rect x="495" y="1936.1" width="6" height="16.0" fill="#ff5252"/>
<rect x="503" y="1936.1" width="6" height="16.9" fill="#ff5252"/>
<rect x="511" y="1936.1" width="6" height="15.6" fill="#ffcdd2"/>
<rect x="519" y="1936.1" width="6" height="13.0" fill="#ffcdd2"/>
<rect x="527" y="1936.1" width="6" height="7.1" fill="#ffcdd2"/>
<rect x="535" y="1936.1" width="6" height="3.6" fill="#ffcdd2"/>
<rect x="543" y="1936.1" width="6" height="2.3" fill="#ffcdd2"/>
<rect x="551" y="1936.1" width="6" height="2.2" fill="#ffcdd2"/>
<rect x="559" y="1935.9" width="6" height="1.0" fill="#26a69a"/>
<rect x="567" y="1932.0" width="6" height="4.1" fill="#26a69a"/>
<rect x="575" y="1930.0" width="6" height="6.1" fill="#26a69a"/>
<rect x="583" y="1929.7" width="6" height="6.4" fill="#26a69a"/>
<rect x="591" y="1928.5" width="6" height="7.6" fill="#26a69a"/>
<rect x="599" y="1930.2" width="6" height="5.9" fill="#b2dfdb"/>
<rect x="607" y="1931.5" width="6" height="4.6" fill="#b2dfdb"/>
<rect x="615" y="1931.7" width="6" height="4.4" fill="#b2dfdb"/>
<rect x="623" y="1933.4" width="6" height="2.7" fill="#b2dfdb"/>
<rect x="631" y="1936.1" width="6" height="1.0" fill="#ff5252"/>
<rect x="639" y="1936.1" width="6" height="3.7" fill="#ff5252"/>
<rect x="647" y="1936.1" width="6" height="5.9" fill="#ff5252"/>
<rect x="655" y="1936.1" width="6" height="8.9" fill="#ff5252"/>
<rect x="663" y="1936.1" width="6" height="8.6" fill="#ffcdd2"/>
<rect x="671" y="1936.1" width="6" height="15.5" fill="#ff5252"/>
<rect x="679" y="1936.1" width="6" height="17.5" fill="#ff5252"/>
<rect x="687" y="1936.1" width="6" height="15.4" fill="#ffcdd2"/>
<rect x="695" y="1936.1" width="6" height="15.7" fill="#ff5252"/>
<rect x="703" y="1936.1" width="6" height="12.1" fill="#ffcdd2"/>
<rect x="711" y="1936.1" width="6" height="10.4" fill="#ffcdd2"/>
<rect x="719" y="1936.1" width="6" height="9.8" fill="#ffcdd2"/>
<rect x="727" y="1936.1" width="6" height="7.8" fill="#ffcdd2"/>
<rect x="735" y="1936.1" width="6" height="6.0" fill="#ffcdd2"/>
<rect x="743" y="1936.1" width="6" height="3.8" fill="#ffcdd2"/>
<rect x="751" y="1936.1" width="6" height="7.7" fill="#ff5252"/>
<rect x="759" y="1936.1" width="6" height="9.1" fill="#ff5252"/>
<rect x="767" y="1936.1" width="6" height="4.9" fill="#ffcdd2"/>
<rect x="775" y="1936.1" width="6" height="2.4" fill="#ffcdd2"/>
<rect x="783" y="1936.1" width="6" height="1.9" fill="#ffcdd2"/>
<rect x="790" y="1936.1" width="6" height="1.0" fill="#ffcdd2"/>
<rect x="798" y="1934.1" width="6" height="2.0" fill="#26a69a"/>
<rect x="806" y="1934.5" width="6" height="1.6" fill="#b2dfdb"/>
<rect x="814" y="1931.7" width="6" height="4.4" fill="#26a69a"/>
<rect x="822" y="1930.0" width="6" height="6.1" fill="#26a69a"/>
<rect x="830" y="1927.1" width="6" height="9.0" fill="#26a69a"/>
<rect x="838" y="1922.6" width="6" height="13.5" fill="#26a69a"/>
<rect x="846" y="1916.0" width="6" height="20.1" fill="#26a69a"/>
<rect x="854" y="1913.6" width="6" height="22.5" fill="#26a69a"/>
<rect x="862" y="1913.1" width="6" height="23.0" fill="#26a69a"/>
<rect x="870" y="1913.9" width="6" height="22.2" fill="#b2dfdb"/>
<rect x="878" y="1912.7" width="6" height="23.4" fill="#26a69a"/>
<rect x="886" y="1913.2" width="6" height="22.9" fill="#b2dfdb"/>
<rect x="894" y="1919.8" width="6" height="16.3" fill="#b2dfdb"/>
<rect x="902" y="1923.0" width="6" height="13.1" fill="#b2dfdb"/>
<rect x="910" y="1927.8" width="6" height="8.3" fill="#b2dfdb"/>
<rect x="918" y="1932.4" width="6" height="3.7" fill="#b2dfdb"/>
<rect x="926" y="1934.4" width="6" height="1.7" fill="#b2dfdb"/>
<rect x="934" y="1936.1" width="6" height="5.8" fill="#ff5252"/>
<rect x="942" y="1936.1" width="6" height="4.7" fill="#ffcdd2"/>
<rect x="950" y="1936.1" width="6" height="3.0" fill="#ffcdd2"/>
<rect x="958" y="1936.1" width="6" height="4.5" fill="#ff5252"/>
<rect x="966" y="1936.1" width="6" height="4.5" fill="#ffcdd2"/>
<rect x="974" y="1936.1" width="6" height="4.2" fill="#ffcdd2"/>
<rect x="982" y="1936.1" width="6" height="3.0" fill="#ffcdd2"/>
<rect x="990" y="1936.1" width="6" height="2.6" fill="#ffcdd2"/>
<rect x="998" y="1936.1" width="6" height="4.5" fill="#ff5252"/>
<rect x="1006" y="1936.1" width="6" height="5.8" fill="#ff5252"/>
<rect x="1014" y="1936.1" width="6" height="8.5" fill="#ff5252"/>
<rect x="1022" y="1936.1" width="6" height="7.5" fill="#ffcdd2"/>
<rect x="1030" y="1936.1" width="6" height="9.1" fill="#ff5252"/>
<rect x="1038" y="1936.1" width="6" height="8.3" fill="#ffcdd2"/>
<rect x="1046" y="1936.1" width="6" height="11.7" fill="#ff5252"/>
<rect x="1054" y="1936.1" width="6" height="15.5" fill="#ff5252"/>
<rect x="1062" y="1936.1" width="6" height="11.8" fill="#ffcdd2"/>
<rect x="1070" y="1936.1" width="6" height="7.1" fill="#ffcdd2"/>
<rect x="1078" y="1935.9" width="6" height="1.0" fill="#26a69a"/>
<rect x="1086" y="1935.9" width="6" height="1.0" fill="#b2dfdb"/>
<rect x="1094" y="1936.1" width="6" height="2.0" fill="#ff5252"/>
<rect x="1102" y="1936.1" width="6" height="7.1" fill="#ff5252"/>
<rect x="1110" y="1936.1" width="6" height="15.3" fill="#ff5252"/>
<rect x="1118" y="1936.1" width="6" height="19.9" fill="#ff5252"/>
<rect x="1126" y="1936.1" width="6" height="20.0" fill="#ff5252"/>
<rect x="1134" y="1936.1" width="6" height="21.3" fill="#ff5252"/>
<rect x="1142" y="1936.1" width="6" height="18.8" fill="#ffcdd2"/>
<rect x="1150" y="1936.1" width="6" height="12.8" fill="#ffcdd2"/>
<rect x="1158" y="1936.1" width="6" height="4.7" fill="#ffcdd2"/>
<rect x="1166" y="1934.6" width="6" height="1.5" fill="#26a69a"/>
<rect x="1174" y="1929.6" width="6" height="6.5" fill="#26a69a"/>
<rect x="1181" y="1929.8" width="6" height="6.3" fill="#b2dfdb"/>
<rect x="1189" y="1928.3" width="6" height="7.8" fill="#26a69a"/>
<rect x="1197" y="1927.9" width="6" height="8.2" fill="#26a69a"/>
<rect x="1205" y="1925.1" width="6" height="11.0" fill="#26a69a"/>
<rect x="1213" y="1921.9" width="6" height="14.2" fill="#26a69a"/>
<rect x="1221" y="1920.1" width="6" height="16.0" fill="#26a69a"/>
<rect x="1229" y="1918.1" width="6" height="18.0" fill="#26a69a"/>
<rect x="1237" y="1918.2" width="6" height="17.9" fill="#b2dfdb"/>
<rect x="1245" y="1916.8" width="6" height="19.3" fill="#26a69a"/>
<rect x="1253" y="1918.6" width="6" height="17.5" fill="#b2dfdb"/>
<rect x="1261" y="1920.0" width="6" height="16.1" fill="#b2dfdb"/>
<rect x="1269" y="1923.8" width="6" height="12.3" fill="#b2dfdb"/>
<rect x="1277" y="1928.5" width="6" height="7.6" fill="#b2dfdb"/>
<rect x="1285" y="1928.7" width="6" height="7.4" fill="#b2dfdb"/>
<rect x="1293" y="1928.1" width="6" height="8.0" fill="#26a69a"/>
<rect x="1301" y="1928.3" width="6" height="7.8" fill="#b2dfdb"/>
<rect x="1309" y="1928.3" width="6" height="7.8" fill="#26a69a"/>
<rect x="1317" y="1928.8" width="6" height="7.3" fill="#b2dfdb"/>
<rect x="1325" y="1927.7" width="6" height="8.4" fill="#26a69a"/>
<rect x="1333" y="1927.0" width="6" height="9.1" fill="#26a69a"/>
<rect x="1341" y="1922.9" width="6" height="13.2" fill="#26a69a"/>
<rect x="1349" y="1921.0" width="6" height="15.1" fill="#26a69a"/>
<rect x="1357" y="1917.7" width="6" height="18.4" fill="#26a69a"/>
<rect x="1365" y="1916.9" width="6" height="19.2" fill="#26a69a"/>
<rect x="1373" y="1916.0" width="6" height="20.1" fill="#26a69a"/>
<rect x="1381" y="1915.0" width="6" height="21.1" fill="#26a69a"/>
<rect x="1389" y="1915.6" width="6" height="20.5" fill="#b2dfdb"/>
<rect x="1397" y="1919.6" width="6" height="16.5" fill="#b2dfdb"/>
<rect x="1405" y="1922.5" width="6" height="13.6" fill="#b2dfdb"/>
<rect x="1413" y="1926.5" width="6" height="9.6" fill="#b2dfdb"/>
<rect x="1421" y="1934.5" width="6" height="1.6" fill="#b2dfdb"/>
<rect x="1429" y="1936.1" width="6" height="7.6" fill="#ff5252"/>
<rect x="1437" y="1936.1" width="6" height="15.5" fill="#ff5252"/>
<rect x="1445" y="1936.1" width="6" height="16.3" fill="#ff5252"/>
<rect x="1453" y="1936.1" width="6" height="15.7" fill="#ffcdd2"/>
<rect x="1461" y="1936.1" width="6" height="14.6" fill="#ffcdd2"/>
<rect x="1469" y="1936.1" width="6" height="14.2" fill="#ffcdd2"/>
<rect x="1477" y="1936.1" width="6" height="14.6" fill="#ff5252"/>
<rect x="1485" y="1936.1" width="6" height="21.3" fill="#ff5252"/>
<rect x="1493" y="1936.1" width="6" height="21.6" fill="#ff5252"/>
<rect x="1501" y="1936.1" width="6" height="17.5" fill="#ffcdd2"/>
<rect x="1509" y="1936.1" width="6" height="14.6" fill="#ffcdd2"/>
<rect x="1517" y="1936.1" width="6" height="14.5" fill="#ffcdd2"/>
<rect x="1525" y="1936.1" width="6" height="15.4" fill="#ff5252"/>
<rect x="1533" y="1936.1" width="6" height="12.2" fill="#ffcdd2"/>
<rect x="1541" y="1936.1" width="6" height="5.7" fill="#ffcdd2"/>
<rect x="1549" y="1936.1" width="6" height="1.8" fill="#ffcdd2"/>
<rect x="1557" y="1936.1" width="6" height="1.2" fill="#ffcdd2"/>
<rect x="1565" y="1936.1" width="6" height="1.0" fill="#ffcdd2"/>
<rect x="1573" y="1936.0" width="6" height="1.0" fill="#26a69a"/>
<rect x="1581" y="1936.1" width="6" height="1.0" fill="#ff5252"/>
<rect x="1588" y="1935.0" width="6" height="1.1" fill="#26a69a"/>
<rect x="1596" y="1930.2" width="6" height="5.9" fill="#26a69a"/>
<rect x="1604" y="1930.7" width="6" height="5.4" fill="#b2dfdb"/>
<rect x="1612" y="1928.5" width="6" height="7.6" fill="#26a69a"/>
<rect x="1620" y="1931.4" width="6" height="4.7" fill="#b2dfdb"/>
<rect x="1628" y="1933.5" width="6" height="2.6" fill="#b2dfdb"/>
<rect x="1636" y="1932.6" width="6" height="3.5" fill="#26a69a"/>
<rect x="1644" y="1930.9" width="6" height="5.2" fill="#26a69a"/>
<rect x="1652" y="1930.3" width="6" height="5.8" fill="#26a69a"/>
<rect x="1660" y="1936.1" width="6" height="3.1" fill="#ff5252"/>
<rect x="1668" y="1936.1" width="6" height="20.0" fill="#ff5252"/>
<rect x="1676" y="1936.1" width="6" height="24.1" fill="#ff5252"/>
<rect x="1684" y="1936.1" width="6" height="30.8" fill="#ff5252"/>
<rect x="1692" y="1936.1" width="6" height="36.4" fill="#ff5252"/>
<rect x="1700" y="1936.1" width="6" height="40.3" fill="#ff5252"/>
<rect x="1708" y="1936.1" width="6" height="33.0" fill="#ffcdd2"/>
<rect x="1716" y="1936.1" width="6" height="30.9" fill="#ffcdd2"/>
<rect x="1724" y="1936.1" width="6" height="28.3" fill="#ffcdd2"/>
<rect x="1732" y="1936.1" width="6" height="26.7" fill="#ffcdd2"/>
<rect x="1740" y="1936.1" width="6" height="22.3" fill="#ffcdd2"/>
<rect x="1748" y="1936.1" width="6" height="15.6" fill="#ffcdd2"/>
<rect x="1756" y="1936.1" width="6" height="13.3" fill="#ffcdd2"/>
<rect x="1764" y="1936.1" width="6" height="19.5" fill="#ff5252"/>
<rect x="1772" y="1936.1" width="6" height="27.8" fill="#ff5252"/>
<rect x="1780" y="1936.1" width="6" height="27.3" fill="#ffcdd2"/>
<rect x="1788" y="1936.1" width="6" height="25.1" fill="#ffcdd2"/>
<rect x="1796" y="1936.1" width="6" height="17.2" fill="#ffcdd2"/>
<rect x="1804" y="1936.1" width="6" height="15.2" fill="#ffcdd2"/>
<polyline points="19.4,1847.5 27.4,1840.9 35.4,1835.5 43.4,1834.3 51.3,1831.7 59.3,1829.5 67.3,1826.3 75.3,1823.3 83.3,1820.9 91.2,1822.4 99.2,1831.1 107.2,1832.4 115.2,1831.2 123.2,1834.7 131.1,1840.4 139.1,1844.8 147.1,1850.3 155.1,1853.0 163.1,1853.0 171.0,1853.1 179.0,1854.4 187.0,1858.6 195.0,1865.9 203.0,1873.2 210.9,1882.3 218.9,1894.5 226.9,1901.4 234.9,1911.7 242.9,1922.0 250.8,1934.7 258.8,1939.6 266.8,1944.8 274.8,1942.5 282.8,1943.1 290.7,1940.9 298.7,1932.7 306.7,1928.5 314.7,1929.1 322.7,1927.6 330.6,1924.2 338.6,1924.2 346.6,1919.5 354.6,1913.8 362.6,1903.8 370.5,1898.0 378.5,1897.2 386.5,1898.6 394.5,1901.9 402.5,1905.7 410.4,1902.9 418.4,1902.5 426.4,1902.2 434.4,1906.9 442.4,1907.4 450.3,1907.3 458.3,1908.9 466.3,1914.7 474.3,1915.2 482.3,1915.1 490.2,1918.7 498.2,1932.3 506.2,1937.4 514.2,1940.0 522.2,1940.6 530.1,1936.6 538.1,1933.9 546.1,1933.3 554.1,1933.7 562.1,1931.3 570.0,1926.3 578.0,1922.8 586.0,1920.9 594.0,1917.7 602.0,1918.0 609.9,1918.1 617.9,1917.3 625.9,1918.2 633.9,1921.2 641.9,1925.6 649.8,1929.3 657.8,1934.5 665.8,1936.4 673.8,1947.1 681.8,1953.5 689.7,1955.3 697.7,1959.6 705.7,1959.0 713.7,1959.8 721.7,1961.7 729.6,1961.6 737.6,1961.4 745.6,1960.1 753.6,1965.9 761.6,1969.5 769.5,1966.6 777.5,1964.7 785.5,1964.7 793.5,1962.8 801.5,1960.2 809.4,1960.2 817.4,1956.4 825.4,1953.2 833.4,1948.0 841.4,1940.1 849.3,1928.5 857.3,1920.5 865.3,1914.3 873.3,1909.5 881.3,1902.5 889.2,1897.3 897.2,1899.8 905.2,1899.6 913.2,1902.4 921.2,1906.1 929.1,1907.7 937.1,1916.6 945.1,1916.7 953.1,1915.8 961.1,1918.4 969.0,1919.5 977.0,1920.2 985.0,1919.8 993.0,1920.0 1001.0,1923.1 1008.9,1925.8 1016.9,1930.6 1024.9,1931.5 1032.9,1935.3 1040.9,1936.7 1048.8,1943.0 1056.8,1950.7 1064.8,1949.9 1072.8,1946.9 1080.8,1939.6 1088.7,1939.6 1096.7,1942.3 1104.7,1949.2 1112.7,1961.3 1120.7,1970.8 1128.6,1975.9 1136.6,1982.5 1144.6,1984.7 1152.6,1981.9 1160.6,1975.0 1168.5,1968.5 1176.5,1961.8 1184.5,1960.4 1192.5,1957.0 1200.5,1954.5 1208.4,1949.0 1216.4,1942.2 1224.4,1936.4 1232.4,1929.9 1240.4,1925.5 1248.3,1919.4 1256.3,1916.7 1264.3,1914.1 1272.3,1914.8 1280.3,1917.7 1288.2,1915.9 1296.2,1913.4 1304.2,1911.6 1312.2,1909.6 1320.2,1908.3 1328.1,1905.2 1336.1,1902.2 1344.1,1894.7 1352.1,1889.1 1360.1,1881.2 1368.0,1875.6 1376.0,1869.7 1384.0,1863.4 1392.0,1858.9 1400.0,1858.8 1407.9,1858.3 1415.9,1859.9 1423.9,1867.5 1431.9,1878.6 1439.9,1890.3 1447.8,1895.2 1455.8,1898.6 1463.8,1901.1 1471.8,1904.2 1479.8,1908.2 1487.7,1920.3 1495.7,1926.0 1503.7,1926.3 1511.7,1927.0 1519.7,1930.6 1527.6,1935.3 1535.6,1935.1 1543.6,1930.1 1551.6,1926.6 1559.6,1926.4 1567.5,1926.3 1575.5,1925.2 1583.5,1926.5 1591.5,1924.2 1599.5,1917.9 1607.4,1917.1 1615.4,1913.0 1623.4,1914.6 1631.4,1916.2 1639.4,1914.4 1647.3,1911.4 1655.3,1909.3 1663.3,1919.0 1671.3,1940.9 1679.3,1951.1 1687.2,1965.5 1695.2,1980.1 1703.2,1994.1 1711.2,1995.0 1719.2,2000.7 1727.1,2005.1 1735.1,2010.2 1743.1,2011.3 1751.1,2008.6 1759.1,2009.6 1767.0,2020.6 1775.0,2036.0 1783.0,2042.2 1791.0,2046.3 1799.0,2042.7 1806.9,2044.5" fill="none" stroke="#2962ff" stroke-width="2" stroke-linejoin="round"/>
<polyline points="19.4,1892.0 27.4,1881.8 35.4,1872.5 43.4,1864.9 51.3,1858.2 59.3,1852.5 67.3,1847.2 75.3,1842.5 83.3,1838.1 91.2,1835.0 99.2,1834.2 107.2,1833.9 115.2,1833.3 123.2,1833.6 131.1,1835.0 139.1,1836.9 147.1,1839.6 155.1,1842.3 163.1,1844.4 171.0,1846.2 179.0,1847.8 187.0,1850.0 195.0,1853.2 203.0,1857.2 210.9,1862.2 218.9,1868.7 226.9,1875.2 234.9,1882.5 242.9,1890.4 250.8,1899.3 258.8,1907.3 266.8,1914.8 274.8,1920.4 282.8,1924.9 290.7,1928.1 298.7,1929.0 306.7,1928.9 314.7,1928.9 322.7,1928.7 330.6,1927.8 338.6,1927.1 346.6,1925.6 354.6,1923.2 362.6,1919.3 370.5,1915.0 378.5,1911.5 386.5,1908.9 394.5,1907.5 402.5,1907.2 410.4,1906.3 418.4,1905.5 426.4,1904.9 434.4,1905.3 442.4,1905.7 450.3,1906.0 458.3,1906.6 466.3,1908.2 474.3,1909.6 482.3,1910.7 490.2,1912.3 498.2,1916.3 506.2,1920.5 514.2,1924.4 522.2,1927.7 530.1,1929.4 538.1,1930.3 546.1,1930.9 554.1,1931.5 562.1,1931.4 570.0,1930.4 578.0,1928.9 586.0,1927.3 594.0,1925.4 602.0,1923.9 609.9,1922.7 617.9,1921.6 625.9,1921.0 633.9,1921.0 641.9,1921.9 649.8,1923.4 657.8,1925.6 665.8,1927.8 673.8,1931.6 681.8,1936.0 689.7,1939.9 697.7,1943.8 705.7,1946.8 713.7,1949.4 721.7,1951.9 729.6,1953.8 737.6,1955.3 745.6,1956.3 753.6,1958.2 761.6,1960.5 769.5,1961.7 777.5,1962.3 785.5,1962.8 793.5,1962.8 801.5,1962.3 809.4,1961.9 817.4,1960.8 825.4,1959.2 833.4,1957.0 841.4,1953.6 849.3,1948.6 857.3,1943.0 865.3,1937.2 873.3,1931.7 881.3,1925.9 889.2,1920.1 897.2,1916.1 905.2,1912.8 913.2,1910.7 921.2,1909.8 929.1,1909.4 937.1,1910.8 945.1,1912.0 953.1,1912.7 961.1,1913.9 969.0,1915.0 977.0,1916.0 985.0,1916.8 993.0,1917.4 1001.0,1918.6 1008.9,1920.0 1016.9,1922.1 1024.9,1924.0 1032.9,1926.3 1040.9,1928.3 1048.8,1931.3 1056.8,1935.2 1064.8,1938.1 1072.8,1939.9 1080.8,1939.8 1088.7,1939.8 1096.7,1940.3 1104.7,1942.1 1112.7,1945.9 1120.7,1950.9 1128.6,1955.9 1136.6,1961.2 1144.6,1965.9 1152.6,1969.1 1160.6,1970.3 1168.5,1969.9 1176.5,1968.3 1184.5,1966.7 1192.5,1964.8 1200.5,1962.7 1208.4,1960.0 1216.4,1956.4 1224.4,1952.4 1232.4,1947.9 1240.4,1943.4 1248.3,1938.6 1256.3,1934.2 1264.3,1930.2 1272.3,1927.1 1280.3,1925.2 1288.2,1923.4 1296.2,1921.4 1304.2,1919.4 1312.2,1917.5 1320.2,1915.6 1328.1,1913.5 1336.1,1911.3 1344.1,1908.0 1352.1,1904.2 1360.1,1899.6 1368.0,1894.8 1376.0,1889.8 1384.0,1884.5 1392.0,1879.4 1400.0,1875.3 1407.9,1871.9 1415.9,1869.5 1423.9,1869.1 1431.9,1871.0 1439.9,1874.8 1447.8,1878.9 1455.8,1882.8 1463.8,1886.5 1471.8,1890.0 1479.8,1893.7 1487.7,1899.0 1495.7,1904.4 1503.7,1908.8 1511.7,1912.4 1519.7,1916.1 1527.6,1919.9 1535.6,1923.0 1543.6,1924.4 1551.6,1924.8 1559.6,1925.1 1567.5,1925.4 1575.5,1925.3 1583.5,1925.6 1591.5,1925.3 1599.5,1923.8 1607.4,1922.5 1615.4,1920.6 1623.4,1919.4 1631.4,1918.7 1639.4,1917.9 1647.3,1916.6 1655.3,1915.1 1663.3,1915.9 1671.3,1920.9 1679.3,1926.9 1687.2,1934.6 1695.2,1943.7 1703.2,1953.8 1711.2,1962.1 1719.2,1969.8 1727.1,1976.8 1735.1,1983.5 1743.1,1989.1 1751.1,1993.0 1759.1,1996.3 1767.0,2001.2 1775.0,2008.1 1783.0,2015.0 1791.0,2021.2 1799.0,2025.5 1806.9,2029.3" fill="none" stroke="#ff6d00" stroke-width="2" stroke-linejoin="round"/>
</g>
<rect x="21" y="1415" width="2100" height="2" fill="#e0e3eb"/>
<rect x="21" y="1792" width="2100" height="2" fill="#e0e3eb"/>
<rect x="1962" y="55" width="2" height="2070" fill="#6a6e7e"/>
<rect x="21" y="2070" width="2100" height="2" fill="#6a6e7e"/>
<text x="20.0" y="40.0" font-size="24.5" fill="#131722" textLength="857.0" lengthAdjust="spacingAndGlyphs">US_Markets_charts created with TradingView.com, Mar 27, 2026 06:13 UTC</text>
<text x="37.6" y="93.7" font-size="23.5" fill="#50535e" textLength="245.5" lengthAdjust="spacingAndGlyphs">DAX Index · 1D · XETR</text>
<text x="37.6" y="127.9" font-size="23.5" fill="#50535e" textLength="49.0" lengthAdjust="spacingAndGlyphs">EMA</text>
<text x="102.4" y="127.9" font-size="24" fill="#2962ff" textLength="114.0" lengthAdjust="spacingAndGlyphs">23,434.08</text>
<text x="37.6" y="161.6" font-size="23.5" fill="#50535e" textLength="50.0" lengthAdjust="spacingAndGlyphs">SMA</text>
<text x="103.2" y="161.6" font-size="24" fill="#089981" textLength="110.3" lengthAdjust="spacingAndGlyphs">24,337.58</text>
<text x="37.6" y="195.7" font-size="23.5" fill="#50535e" textLength="50.0" lengthAdjust="spacingAndGlyphs">SMA</text>
<text x="103.2" y="195.7" font-size="24" fill="#ab47bc" textLength="106.3" lengthAdjust="spacingAndGlyphs">24,113.89</text>
<text x="37.5" y="1457.0" font-size="24" fill="#50535e" textLength="34.5" lengthAdjust="spacingAndGlyphs">RSI</text>
<text x="88.3" y="1457.0" font-size="24" fill="#7e57c2" textLength="62.0" lengthAdjust="spacingAndGlyphs">35.25</text>
<text x="166.6" y="1457.0" font-size="24" fill="#fdd835" textLength="56.0" lengthAdjust="spacingAndGlyphs">36.11</text>
<text x="37.5" y="1833.7" font-size="24" fill="#50535e" textLength="68.7" lengthAdjust="spacingAndGlyphs">MACD</text>
<text x="121.9" y="1833.7" font-size="24" fill="#ffcdd2" textLength="76.7" lengthAdjust="spacingAndGlyphs">−72.34</text>
<text x="214.8" y="1833.7" font-size="24" fill="#2962ff" textLength="89.5" lengthAdjust="spacingAndGlyphs">−515.98</text>
<text x="320.0" y="1833.7" font-size="24" fill="#ff6d00" textLength="95.1" lengthAdjust="spacingAndGlyphs">−443.64</text>
<text x="1981.6" y="178.7" font-size="25" fill="#50535e" textLength="117.4" lengthAdjust="spacingAndGlyphs">26,800.00</text>
<text x="1981.6" y="254.1" font-size="25" fill="#50535e" textLength="117.4" lengthAdjust="spacingAndGlyphs">26,400.00</text>
<text x="1981.6" y="329.5" font-size="25" fill="#50535e" textLength="117.4" lengthAdjust="spacingAndGlyphs">26,000.00</text>
<text x="1981.6" y="404.9" font-size="25" fill="#50535e" textLength="117.4" lengthAdjust="spacingAndGlyphs">25,600.00</text>
<text x="1981.6" y="480.3" font-size="25" fill="#50535e" textLength="117.4" lengthAdjust="spacingAndGlyphs">25,200.00</text>
<text x="1981.6" y="555.7" font-size="25" fill="#50535e" textLength="117.4" lengthAdjust="spacingAndGlyphs">24,800.00</text>
<text x="1981.6" y="631.1" font-size="25" fill="#50535e" textLength="117.4" lengthAdjust="spacingAndGlyphs">24,400.00</text>
<text x="1981.6" y="706.5" font-size="25" fill="#50535e" textLength="117.4" lengthAdjust="spacingAndGlyphs">24,000.00</text>
<text x="1981.6" y="781.9" font-size="25" fill="#50535e" textLength="117.4" lengthAdjust="spacingAndGlyphs">23,600.00</text>
<text x="1981.6" y="857.3" font-size="25" fill="#50535e" textLength="117.4" lengthAdjust="spacingAndGlyphs">23,200.00</text>
<text x="1981.6" y="932.7" font-size="25" fill="#50535e" textLength="117.4" lengthAdjust="spacingAndGlyphs">22,800.00</text>
<text x="1981.6" y="1008.1" font-size="25" fill="#50535e" textLength="117.4" lengthAdjust="spacingAndGlyphs">22,400.00</text>
<text x="1981.6" y="1083.5" font-size="25" fill="#50535e" textLength="117.4" lengthAdjust="spacingAndGlyphs">22,000.00</text>
<text x="1981.6" y="1158.9" font-size="25" fill="#50535e" textLength="117.4" lengthAdjust="spacingAndGlyphs">21,600.00</text>
<text x="1981.6" y="1234.3" font-size="25" fill="#50535e" textLength="117.4" lengthAdjust="spacingAndGlyphs">21,200.00</text>
<text x="1981.6" y="1309.7" font-size="25" fill="#50535e" textLength="117.4" lengthAdjust="spacingAndGlyphs">20,800.00</text>
<text x="1981.6" y="1385.1" font-size="25" fill="#50535e" textLength="117.4" lengthAdjust="spacingAndGlyphs">20,400.00</text>
<text x="1981.3" y="1458.7" font-size="25" fill="#50535e" textLength="64.9" lengthAdjust="spacingAndGlyphs">80.00</text>
<text x="1981.3" y="1577.6" font-size="25" fill="#50535e" textLength="64.9" lengthAdjust="spacingAndGlyphs">60.00</text>
<text x="1981.3" y="1696.5" font-size="25" fill="#50535e" textLength="64.9" lengthAdjust="spacingAndGlyphs">40.00</text>
<text x="1981.1" y="1859.8" font-size="25" fill="#50535e" textLength="80.0" lengthAdjust="spacingAndGlyphs">400.00</text>
<text x="1981.1" y="1943.8" font-size="25" fill="#50535e" textLength="49.5" lengthAdjust="spacingAndGlyphs">0.00</text>
<text x="1981.1" y="2027.8" font-size="25" fill="#50535e" textLength="95.2" lengthAdjust="spacingAndGlyphs">−400.00</text>
<path d="M1964 412.0 H2108 a4 4 0 0 1 4 4 V442.0 a4 4 0 0 1 -4 4 H1964 Z" fill="#f23645"/>
<text x="1981.6" y="436.3" font-size="25" fill="#fff" textLength="117.2" lengthAdjust="spacingAndGlyphs">25,431.16</text>
<path d="M1964 550.1 H2108 a4 4 0 0 1 4 4 V580.1 a4 4 0 0 1 -4 4 H1964 Z" fill="#f23645"/>
<text x="1981.6" y="574.4" font-size="25" fill="#fff" textLength="117.2" lengthAdjust="spacingAndGlyphs">24,698.82</text>
<path d="M1964 874.0 H2108 a4 4 0 0 1 4 4 V904.0 a4 4 0 0 1 -4 4 H1964 Z" fill="#f23645"/>
<text x="1981.6" y="898.3" font-size="25" fill="#fff" textLength="117.2" lengthAdjust="spacingAndGlyphs">22,980.13</text>
<path d="M1964 943.3 H2108 a4 4 0 0 1 4 4 V973.3 a4 4 0 0 1 -4 4 H1964 Z" fill="#ef5350"/>
<text x="1981.6" y="967.6" font-size="25" fill="#fff" textLength="117.2" lengthAdjust="spacingAndGlyphs">22,612.97</text>
<rect x="1969.5" y="61.5" width="145" height="53" rx="8" fill="#fff" stroke="#e9ebf0" stroke-width="1.5"/>
<text x="1989.0" y="95.9" font-size="24" fill="#131722" textLength="45.7" lengthAdjust="spacingAndGlyphs">EUR</text>
<text x="147.1" y="2108.0" font-size="24" fill="#50535e" text-anchor="middle">Jun</text>
<text x="314.7" y="2108.0" font-size="24" fill="#50535e" text-anchor="middle">Jul</text>
<text x="498.2" y="2108.0" font-size="24" fill="#50535e" text-anchor="middle">Aug</text>
<text x="665.8" y="2108.0" font-size="24" fill="#50535e" text-anchor="middle">Sep</text>
<text x="841.4" y="2108.0" font-size="24" fill="#50535e" text-anchor="middle">Oct</text>
<text x="1024.9" y="2108.0" font-size="24" fill="#50535e" text-anchor="middle">Nov</text>
<text x="1184.5" y="2108.0" font-size="24" fill="#50535e" text-anchor="middle">Dec</text>
<text x="1336.1" y="2108.0" font-size="24" fill="#50535e" textLength="62.0" lengthAdjust="spacingAndGlyphs" font-weight="bold" text-anchor="middle">2026</text>
<text x="1503.7" y="2108.0" font-size="24" fill="#50535e" text-anchor="middle">Feb</text>
<text x="1663.3" y="2108.0" font-size="24" fill="#50535e" text-anchor="middle">Mar</text>
<text x="1838.9" y="2108.0" font-size="24" fill="#50535e" text-anchor="middle">Apr</text>
<g fill="#151515"><path d="M24 2170.3 H48 V2199.7 H35.8 V2181.6 H24 Z"/><circle cx="58" cy="2175.8" r="6"/><path d="M69.3 2170.3 H83.6 L72.5 2199.7 H58 Z"/></g>
<text x="98.0" y="2199.7" font-size="42.5" fill="#151515" textLength="241.4" lengthAdjust="spacingAndGlyphs" font-weight="bold">TradingView</text>
</svg></body></html>
